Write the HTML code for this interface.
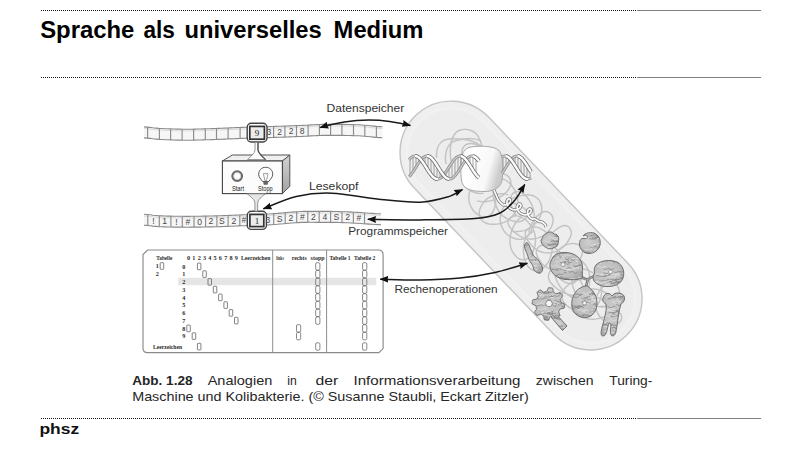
<!DOCTYPE html>
<html><head><meta charset="utf-8"><title>Sprache als universelles Medium</title>
<style>
html,body{margin:0;padding:0;background:#fff;width:800px;height:450px;overflow:hidden}
svg{display:block;position:absolute;left:0;top:0}
text{font-family:"Liberation Sans",sans-serif}
.ti{font-weight:bold;font-size:23px;fill:#000}
.cp{font-size:12.2px;fill:#262626}
.cb{font-size:12.2px;font-weight:bold;fill:#262626}
.ft{font-size:15.5px;font-weight:bold;fill:#111}
.lb{fill:#333}
.tp{font-family:"Liberation Sans",sans-serif;font-size:8.6px;fill:#484848;text-anchor:middle}
.hd{font-family:"Liberation Serif",serif;font-size:9px;fill:#222;text-anchor:middle}
.sm{font-size:6.3px;fill:#1a1a1a}
.tb{font-family:"Liberation Serif",serif;font-size:6.2px;font-weight:bold;fill:#2a2a2a}
</style></head><body>
<svg width="800" height="450" viewBox="0 0 800 450">
<line x1="41" y1="10.5" x2="637" y2="10.5" stroke="#1a1a1a" stroke-width="1" stroke-dasharray="1 1" shape-rendering="crispEdges"/><line x1="637" y1="10.5" x2="761" y2="10.5" stroke="#7f7f7f" stroke-width="1" shape-rendering="crispEdges"/><line x1="41" y1="77.5" x2="637" y2="77.5" stroke="#1a1a1a" stroke-width="1" stroke-dasharray="1 1" shape-rendering="crispEdges"/><line x1="637" y1="77.5" x2="761" y2="77.5" stroke="#7f7f7f" stroke-width="1" shape-rendering="crispEdges"/><line x1="41" y1="418.5" x2="637" y2="418.5" stroke="#1a1a1a" stroke-width="1" stroke-dasharray="1 1" shape-rendering="crispEdges"/><line x1="637" y1="418.5" x2="761" y2="418.5" stroke="#7f7f7f" stroke-width="1" shape-rendering="crispEdges"/><text x="40.2" y="37.6" class="ti" textLength="94.2" lengthAdjust="spacingAndGlyphs">Sprache</text><text x="143.4" y="37.6" class="ti" textLength="31.4" lengthAdjust="spacingAndGlyphs">als</text><text x="184.4" y="37.6" class="ti" textLength="137.4" lengthAdjust="spacingAndGlyphs">universelles</text><text x="333.6" y="37.6" class="ti" textLength="89.8" lengthAdjust="spacingAndGlyphs">Medium</text><text x="132.2" y="384.8" class="cb" textLength="60.3" lengthAdjust="spacingAndGlyphs">Abb. 1.28</text><text x="207.7" y="384.8" class="cp" textLength="64.6" lengthAdjust="spacingAndGlyphs">Analogien</text><text x="287.3" y="384.8" class="cp" textLength="9.5" lengthAdjust="spacingAndGlyphs">in</text><text x="315.4" y="384.8" class="cp" textLength="22.8" lengthAdjust="spacingAndGlyphs">der</text><text x="353.5" y="384.8" class="cp" textLength="167" lengthAdjust="spacingAndGlyphs">Informationsverarbeitung</text><text x="535.8" y="384.8" class="cp" textLength="57.7" lengthAdjust="spacingAndGlyphs">zwischen</text><text x="609.3" y="384.8" class="cp" textLength="43" lengthAdjust="spacingAndGlyphs">Turing-</text><text x="132.2" y="400.7" class="cp" textLength="396.6" lengthAdjust="spacingAndGlyphs">Maschine und Kolibakterie. (© Susanne Staubli, Eckart Zitzler)</text><text x="39.4" y="433.5" class="ft" textLength="39.8" lengthAdjust="spacingAndGlyphs">phsz</text>
<polygon points="144,126.9 147,127.1 150,127.4 152.9,127.8 155.9,128.1 158.9,128.4 161.9,128.5 164.9,128.7 167.8,128.8 170.8,128.9 173.8,129 176.8,129.1 179.8,129.1 182.7,129.2 185.7,129.2 188.7,129.2 191.7,129.2 194.7,129.1 197.6,129 200.6,129 203.6,128.9 206.6,128.8 209.6,128.7 212.5,128.6 215.5,128.5 218.5,128.4 221.5,128.3 224.5,128.1 227.4,128 230.4,127.9 233.4,127.8 236.4,127.6 239.4,127.5 242.3,127.4 245.3,127.3 248.3,127.2 251.3,127.1 254.3,127 257.2,126.9 260.2,126.9 263.2,126.8 266.2,126.7 269.2,126.6 272.1,126.5 275.1,126.4 278.1,126.3 281.1,126.2 284.1,126.1 287,126 290,125.9 293,125.8 296,125.6 299,125.5 301.9,125.4 304.9,125.2 307.9,125.1 310.9,124.9 313.9,124.7 316.8,124.6 319.8,124.5 322.8,124.4 325.8,124.4 328.8,124.4 331.7,124.4 334.7,124.4 337.7,124.4 340.7,124.4 343.7,124.4 346.6,124.5 349.6,124.5 352.6,124.6 355.6,124.7 358.6,124.8 361.5,125 364.5,125.2 367.5,125.5 370.5,125.8 373.5,126.1 376.4,126.4 379.4,126.6 382.4,126.8 382.4,137.8 379.4,137.6 376.4,137.4 373.5,137.1 370.5,136.8 367.5,136.5 364.5,136.2 361.5,136 358.6,135.8 355.6,135.7 352.6,135.6 349.6,135.5 346.6,135.5 343.7,135.4 340.7,135.4 337.7,135.4 334.7,135.4 331.7,135.4 328.8,135.4 325.8,135.4 322.8,135.4 319.8,135.5 316.8,135.6 313.9,135.7 310.9,135.9 307.9,136.1 304.9,136.2 301.9,136.4 299,136.5 296,136.6 293,136.8 290,136.9 287,137 284.1,137.1 281.1,137.2 278.1,137.3 275.1,137.4 272.1,137.5 269.2,137.6 266.2,137.7 263.2,137.8 260.2,137.9 257.2,137.9 254.3,138 251.3,138.1 248.3,138.2 245.3,138.3 242.3,138.4 239.4,138.5 236.4,138.6 233.4,138.8 230.4,138.9 227.4,139 224.5,139.1 221.5,139.3 218.5,139.4 215.5,139.5 212.5,139.6 209.6,139.7 206.6,139.8 203.6,139.9 200.6,140 197.6,140 194.7,140.1 191.7,140.2 188.7,140.2 185.7,140.2 182.7,140.2 179.8,140.1 176.8,140.1 173.8,140 170.8,139.9 167.8,139.8 164.9,139.7 161.9,139.5 158.9,139.4 155.9,139.1 152.9,138.8 150,138.4 147,138.1 144,137.9" fill="#f6f6f6" stroke="none"/><polyline points="144,126.9 147,127.1 150,127.4 152.9,127.8 155.9,128.1 158.9,128.4 161.9,128.5 164.9,128.7 167.8,128.8 170.8,128.9 173.8,129 176.8,129.1 179.8,129.1 182.7,129.2 185.7,129.2 188.7,129.2 191.7,129.2 194.7,129.1 197.6,129 200.6,129 203.6,128.9 206.6,128.8 209.6,128.7 212.5,128.6 215.5,128.5 218.5,128.4 221.5,128.3 224.5,128.1 227.4,128 230.4,127.9 233.4,127.8 236.4,127.6 239.4,127.5 242.3,127.4 245.3,127.3 248.3,127.2 251.3,127.1 254.3,127 257.2,126.9 260.2,126.9 263.2,126.8 266.2,126.7 269.2,126.6 272.1,126.5 275.1,126.4 278.1,126.3 281.1,126.2 284.1,126.1 287,126 290,125.9 293,125.8 296,125.6 299,125.5 301.9,125.4 304.9,125.2 307.9,125.1 310.9,124.9 313.9,124.7 316.8,124.6 319.8,124.5 322.8,124.4 325.8,124.4 328.8,124.4 331.7,124.4 334.7,124.4 337.7,124.4 340.7,124.4 343.7,124.4 346.6,124.5 349.6,124.5 352.6,124.6 355.6,124.7 358.6,124.8 361.5,125 364.5,125.2 367.5,125.5 370.5,125.8 373.5,126.1 376.4,126.4 379.4,126.6 382.4,126.8" fill="none" stroke="#8a8a8a" stroke-width="1.15"/><polyline points="382.4,137.8 379.4,137.6 376.4,137.4 373.5,137.1 370.5,136.8 367.5,136.5 364.5,136.2 361.5,136 358.6,135.8 355.6,135.7 352.6,135.6 349.6,135.5 346.6,135.5 343.7,135.4 340.7,135.4 337.7,135.4 334.7,135.4 331.7,135.4 328.8,135.4 325.8,135.4 322.8,135.4 319.8,135.5 316.8,135.6 313.9,135.7 310.9,135.9 307.9,136.1 304.9,136.2 301.9,136.4 299,136.5 296,136.6 293,136.8 290,136.9 287,137 284.1,137.1 281.1,137.2 278.1,137.3 275.1,137.4 272.1,137.5 269.2,137.6 266.2,137.7 263.2,137.8 260.2,137.9 257.2,137.9 254.3,138 251.3,138.1 248.3,138.2 245.3,138.3 242.3,138.4 239.4,138.5 236.4,138.6 233.4,138.8 230.4,138.9 227.4,139 224.5,139.1 221.5,139.3 218.5,139.4 215.5,139.5 212.5,139.6 209.6,139.7 206.6,139.8 203.6,139.9 200.6,140 197.6,140 194.7,140.1 191.7,140.2 188.7,140.2 185.7,140.2 182.7,140.2 179.8,140.1 176.8,140.1 173.8,140 170.8,139.9 167.8,139.8 164.9,139.7 161.9,139.5 158.9,139.4 155.9,139.1 152.9,138.8 150,138.4 147,138.1 144,137.9" fill="none" stroke="#8a8a8a" stroke-width="1.15"/><polyline points="144,128.6 147,128.8 150,129.1 152.9,129.5 155.9,129.8 158.9,130.1 161.9,130.2 164.9,130.4 167.8,130.5 170.8,130.6 173.8,130.7 176.8,130.8 179.8,130.8 182.7,130.9 185.7,130.9 188.7,130.9 191.7,130.9 194.7,130.8 197.6,130.7 200.6,130.7 203.6,130.6 206.6,130.5 209.6,130.4 212.5,130.3 215.5,130.2 218.5,130.1 221.5,130 224.5,129.8 227.4,129.7 230.4,129.6 233.4,129.5 236.4,129.3 239.4,129.2 242.3,129.1 245.3,129 248.3,128.9 251.3,128.8 254.3,128.7 257.2,128.6 260.2,128.6 263.2,128.5 266.2,128.4 269.2,128.3 272.1,128.2 275.1,128.1 278.1,128 281.1,127.9 284.1,127.8 287,127.7 290,127.6 293,127.5 296,127.3 299,127.2 301.9,127.1 304.9,126.9 307.9,126.8 310.9,126.6 313.9,126.4 316.8,126.3 319.8,126.2 322.8,126.1 325.8,126.1 328.8,126.1 331.7,126.1 334.7,126.1 337.7,126.1 340.7,126.1 343.7,126.1 346.6,126.2 349.6,126.2 352.6,126.3 355.6,126.4 358.6,126.5 361.5,126.7 364.5,126.9 367.5,127.2 370.5,127.5 373.5,127.8 376.4,128.1 379.4,128.3 382.4,128.5" fill="none" stroke="#d4d4d4" stroke-width="0.8"/><line x1="147.6" y1="127.2" x2="147.6" y2="138.2" stroke="#8c8c8c" stroke-width="1.15"/><line x1="159.4" y1="128.4" x2="159.4" y2="139.4" stroke="#8c8c8c" stroke-width="1.15"/><line x1="170.6" y1="128.9" x2="170.6" y2="139.9" stroke="#8c8c8c" stroke-width="1.15"/><line x1="182.1" y1="129.2" x2="182.1" y2="140.2" stroke="#8c8c8c" stroke-width="1.15"/><line x1="193.6" y1="129.1" x2="193.6" y2="140.1" stroke="#8c8c8c" stroke-width="1.15"/><line x1="205.3" y1="128.8" x2="205.3" y2="139.8" stroke="#8c8c8c" stroke-width="1.15"/><line x1="216.5" y1="128.5" x2="216.5" y2="139.5" stroke="#8c8c8c" stroke-width="1.15"/><line x1="228.1" y1="128" x2="228.1" y2="139" stroke="#8c8c8c" stroke-width="1.15"/><line x1="240.1" y1="127.5" x2="240.1" y2="138.5" stroke="#8c8c8c" stroke-width="1.15"/><line x1="273.6" y1="126.5" x2="273.6" y2="137.5" stroke="#8c8c8c" stroke-width="1.15"/><line x1="284.9" y1="126.1" x2="284.9" y2="137.1" stroke="#8c8c8c" stroke-width="1.15"/><line x1="296.5" y1="125.6" x2="296.5" y2="136.6" stroke="#8c8c8c" stroke-width="1.15"/><line x1="308.1" y1="125" x2="308.1" y2="136" stroke="#8c8c8c" stroke-width="1.15"/><line x1="319.4" y1="124.5" x2="319.4" y2="135.5" stroke="#8c8c8c" stroke-width="1.15"/><line x1="330.6" y1="124.4" x2="330.6" y2="135.4" stroke="#8c8c8c" stroke-width="1.15"/><line x1="341.9" y1="124.4" x2="341.9" y2="135.4" stroke="#8c8c8c" stroke-width="1.15"/><line x1="353.5" y1="124.6" x2="353.5" y2="135.6" stroke="#8c8c8c" stroke-width="1.15"/><line x1="364.8" y1="125.2" x2="364.8" y2="136.2" stroke="#8c8c8c" stroke-width="1.15"/><line x1="376.4" y1="126.4" x2="376.4" y2="137.4" stroke="#8c8c8c" stroke-width="1.15"/><text x="268.8" y="135.1" class="tp">3</text><text x="279.6" y="134.8" class="tp">2</text><text x="291.2" y="134.3" class="tp">2</text><text x="302.2" y="133.9" class="tp">8</text><polygon points="144,214.3 147,214.5 149.9,214.8 152.9,215.2 155.8,215.5 158.8,215.8 161.8,215.9 164.7,216 167.7,216.1 170.7,216.1 173.6,216.2 176.6,216.2 179.6,216.2 182.5,216.2 185.5,216.3 188.4,216.3 191.4,216.2 194.4,216.2 197.3,216.2 200.3,216.2 203.2,216.1 206.2,216.1 209.2,216 212.1,216 215.1,215.9 218.1,215.8 221,215.7 224,215.6 226.9,215.5 229.9,215.4 232.9,215.3 235.8,215.1 238.8,215 241.8,214.9 244.7,214.8 247.7,214.7 250.7,214.6 253.6,214.5 256.6,214.5 259.5,214.4 262.5,214.3 265.5,214.1 268.4,214 271.4,213.8 274.4,213.6 277.3,213.4 280.3,213.1 283.2,212.9 286.2,212.6 289.2,212.3 292.1,212.1 295.1,211.9 298.1,211.7 301,211.5 304,211.4 306.9,211.4 309.9,211.3 312.9,211.3 315.8,211.4 318.8,211.4 321.8,211.4 324.7,211.4 327.7,211.4 330.6,211.4 333.6,211.5 336.6,211.5 339.5,211.6 342.5,211.7 345.4,211.8 348.4,211.9 351.4,212.1 354.3,212.3 357.3,212.4 360.3,212.6 363.2,212.8 366.2,213 369.1,213.2 372.1,213.4 375.1,213.6 378,213.7 381,213.8 381,224.7 378,224.6 375.1,224.5 372.1,224.3 369.1,224.1 366.2,223.9 363.2,223.7 360.3,223.5 357.3,223.3 354.3,223.2 351.4,223 348.4,222.8 345.4,222.7 342.5,222.6 339.5,222.5 336.6,222.4 333.6,222.4 330.6,222.3 327.7,222.3 324.7,222.3 321.8,222.3 318.8,222.3 315.8,222.3 312.9,222.2 309.9,222.2 306.9,222.3 304,222.3 301,222.4 298.1,222.6 295.1,222.8 292.1,223 289.2,223.2 286.2,223.5 283.2,223.8 280.3,224 277.3,224.3 274.4,224.5 271.4,224.7 268.4,224.9 265.5,225 262.5,225.2 259.5,225.3 256.6,225.4 253.6,225.4 250.7,225.5 247.7,225.6 244.7,225.7 241.8,225.8 238.8,225.9 235.8,226 232.9,226.2 229.9,226.3 226.9,226.4 224,226.5 221,226.6 218.1,226.7 215.1,226.8 212.1,226.9 209.2,226.9 206.2,227 203.2,227 200.3,227.1 197.3,227.1 194.4,227.1 191.4,227.1 188.4,227.2 185.5,227.2 182.5,227.1 179.6,227.1 176.6,227.1 173.6,227.1 170.7,227 167.7,227 164.7,226.9 161.8,226.8 158.8,226.7 155.8,226.4 152.9,226.1 149.9,225.7 147,225.4 144,225.2" fill="#f6f6f6" stroke="none"/><polyline points="144,214.3 147,214.5 149.9,214.8 152.9,215.2 155.8,215.5 158.8,215.8 161.8,215.9 164.7,216 167.7,216.1 170.7,216.1 173.6,216.2 176.6,216.2 179.6,216.2 182.5,216.2 185.5,216.3 188.4,216.3 191.4,216.2 194.4,216.2 197.3,216.2 200.3,216.2 203.2,216.1 206.2,216.1 209.2,216 212.1,216 215.1,215.9 218.1,215.8 221,215.7 224,215.6 226.9,215.5 229.9,215.4 232.9,215.3 235.8,215.1 238.8,215 241.8,214.9 244.7,214.8 247.7,214.7 250.7,214.6 253.6,214.5 256.6,214.5 259.5,214.4 262.5,214.3 265.5,214.1 268.4,214 271.4,213.8 274.4,213.6 277.3,213.4 280.3,213.1 283.2,212.9 286.2,212.6 289.2,212.3 292.1,212.1 295.1,211.9 298.1,211.7 301,211.5 304,211.4 306.9,211.4 309.9,211.3 312.9,211.3 315.8,211.4 318.8,211.4 321.8,211.4 324.7,211.4 327.7,211.4 330.6,211.4 333.6,211.5 336.6,211.5 339.5,211.6 342.5,211.7 345.4,211.8 348.4,211.9 351.4,212.1 354.3,212.3 357.3,212.4 360.3,212.6 363.2,212.8 366.2,213 369.1,213.2 372.1,213.4 375.1,213.6 378,213.7 381,213.8" fill="none" stroke="#8a8a8a" stroke-width="1.15"/><polyline points="381,224.7 378,224.6 375.1,224.5 372.1,224.3 369.1,224.1 366.2,223.9 363.2,223.7 360.3,223.5 357.3,223.3 354.3,223.2 351.4,223 348.4,222.8 345.4,222.7 342.5,222.6 339.5,222.5 336.6,222.4 333.6,222.4 330.6,222.3 327.7,222.3 324.7,222.3 321.8,222.3 318.8,222.3 315.8,222.3 312.9,222.2 309.9,222.2 306.9,222.3 304,222.3 301,222.4 298.1,222.6 295.1,222.8 292.1,223 289.2,223.2 286.2,223.5 283.2,223.8 280.3,224 277.3,224.3 274.4,224.5 271.4,224.7 268.4,224.9 265.5,225 262.5,225.2 259.5,225.3 256.6,225.4 253.6,225.4 250.7,225.5 247.7,225.6 244.7,225.7 241.8,225.8 238.8,225.9 235.8,226 232.9,226.2 229.9,226.3 226.9,226.4 224,226.5 221,226.6 218.1,226.7 215.1,226.8 212.1,226.9 209.2,226.9 206.2,227 203.2,227 200.3,227.1 197.3,227.1 194.4,227.1 191.4,227.1 188.4,227.2 185.5,227.2 182.5,227.1 179.6,227.1 176.6,227.1 173.6,227.1 170.7,227 167.7,227 164.7,226.9 161.8,226.8 158.8,226.7 155.8,226.4 152.9,226.1 149.9,225.7 147,225.4 144,225.2" fill="none" stroke="#8a8a8a" stroke-width="1.15"/><polyline points="144,216 147,216.2 149.9,216.5 152.9,216.9 155.8,217.2 158.8,217.5 161.8,217.6 164.7,217.7 167.7,217.8 170.7,217.8 173.6,217.9 176.6,217.9 179.6,217.9 182.5,217.9 185.5,218 188.4,218 191.4,217.9 194.4,217.9 197.3,217.9 200.3,217.9 203.2,217.8 206.2,217.8 209.2,217.7 212.1,217.7 215.1,217.6 218.1,217.5 221,217.4 224,217.3 226.9,217.2 229.9,217.1 232.9,217 235.8,216.8 238.8,216.7 241.8,216.6 244.7,216.5 247.7,216.4 250.7,216.3 253.6,216.2 256.6,216.2 259.5,216.1 262.5,216 265.5,215.8 268.4,215.7 271.4,215.5 274.4,215.3 277.3,215.1 280.3,214.8 283.2,214.6 286.2,214.3 289.2,214 292.1,213.8 295.1,213.6 298.1,213.4 301,213.2 304,213.1 306.9,213.1 309.9,213 312.9,213 315.8,213.1 318.8,213.1 321.8,213.1 324.7,213.1 327.7,213.1 330.6,213.1 333.6,213.2 336.6,213.2 339.5,213.3 342.5,213.4 345.4,213.5 348.4,213.6 351.4,213.8 354.3,214 357.3,214.1 360.3,214.3 363.2,214.5 366.2,214.7 369.1,214.9 372.1,215.1 375.1,215.3 378,215.4 381,215.5" fill="none" stroke="#d4d4d4" stroke-width="0.8"/><line x1="147.8" y1="214.6" x2="147.8" y2="225.5" stroke="#8c8c8c" stroke-width="1.15"/><line x1="159.3" y1="215.8" x2="159.3" y2="226.7" stroke="#8c8c8c" stroke-width="1.15"/><line x1="170.9" y1="216.1" x2="170.9" y2="227" stroke="#8c8c8c" stroke-width="1.15"/><line x1="182.3" y1="216.2" x2="182.3" y2="227.1" stroke="#8c8c8c" stroke-width="1.15"/><line x1="194" y1="216.2" x2="194" y2="227.1" stroke="#8c8c8c" stroke-width="1.15"/><line x1="205.6" y1="216.1" x2="205.6" y2="227" stroke="#8c8c8c" stroke-width="1.15"/><line x1="216.9" y1="215.9" x2="216.9" y2="226.8" stroke="#8c8c8c" stroke-width="1.15"/><line x1="228.1" y1="215.5" x2="228.1" y2="226.4" stroke="#8c8c8c" stroke-width="1.15"/><line x1="239.8" y1="215" x2="239.8" y2="225.9" stroke="#8c8c8c" stroke-width="1.15"/><line x1="273.7" y1="213.7" x2="273.7" y2="224.6" stroke="#8c8c8c" stroke-width="1.15"/><line x1="285.2" y1="212.7" x2="285.2" y2="223.6" stroke="#8c8c8c" stroke-width="1.15"/><line x1="296.7" y1="211.8" x2="296.7" y2="222.7" stroke="#8c8c8c" stroke-width="1.15"/><line x1="307.8" y1="211.3" x2="307.8" y2="222.2" stroke="#8c8c8c" stroke-width="1.15"/><line x1="319.2" y1="211.4" x2="319.2" y2="222.3" stroke="#8c8c8c" stroke-width="1.15"/><line x1="330.6" y1="211.4" x2="330.6" y2="222.3" stroke="#8c8c8c" stroke-width="1.15"/><line x1="342" y1="211.7" x2="342" y2="222.6" stroke="#8c8c8c" stroke-width="1.15"/><line x1="353.4" y1="212.2" x2="353.4" y2="223.1" stroke="#8c8c8c" stroke-width="1.15"/><line x1="364.5" y1="212.9" x2="364.5" y2="223.8" stroke="#8c8c8c" stroke-width="1.15"/><text x="153.5" y="223.7" class="tp">!</text><text x="164.6" y="224.4" class="tp">1</text><text x="176.5" y="224.6" class="tp">!</text><text x="188" y="224.7" class="tp">#</text><text x="199.6" y="224.6" class="tp">0</text><text x="210.9" y="224.4" class="tp">2</text><text x="221.8" y="224.1" class="tp">S</text><text x="233.8" y="223.7" class="tp">2</text><text x="244" y="223.3" class="tp">#</text><text x="268" y="222.5" class="tp">3</text><text x="279.5" y="221.7" class="tp">S</text><text x="291" y="220.6" class="tp">2</text><text x="302.3" y="219.9" class="tp">#</text><text x="313.5" y="219.8" class="tp">2</text><text x="324.9" y="219.9" class="tp">4</text><text x="336.3" y="220" class="tp">S</text><text x="347.7" y="220.4" class="tp">2</text><text x="358.8" y="221" class="tp">#</text><rect x="247.2" y="123.2" width="19.8" height="18.8" rx="4" fill="#fbfbfb" stroke="#444" stroke-width="1.4"/><rect x="249.8" y="126.4" width="14.6" height="12.8" fill="#ececec" stroke="#333" stroke-width="1.7"/><text x="257.1" y="136.1" class="hd">9</text><rect x="247.3" y="211.2" width="19.1" height="18.2" rx="4" fill="#fbfbfb" stroke="#444" stroke-width="1.4"/><rect x="249.9" y="214.4" width="13.9" height="12.2" fill="#ececec" stroke="#333" stroke-width="1.7"/><text x="256.9" y="223.8" class="hd">1</text><defs><linearGradient id="side" x1="0" y1="0" x2="0" y2="1"><stop offset="0" stop-color="#d2d2d2"/><stop offset="1" stop-color="#a2a2a2"/></linearGradient></defs><polygon points="222.4,161 232.4,155 289.8,155 282.4,161" fill="#efefef" stroke="#555" stroke-width="1"/><polygon points="282.4,161 289.8,155 289.8,186.4 282.4,193.6" fill="url(#side)" stroke="#555" stroke-width="1"/><rect x="222.4" y="161" width="60" height="32.6" fill="#fcfcfc" stroke="#444" stroke-width="1.1"/><circle cx="237.2" cy="176.1" r="4.8" fill="#fff" stroke="#6a6a6a" stroke-width="2.2"/><circle cx="237.2" cy="176.1" r="3.5" fill="#fff" stroke="#aaa" stroke-width="0.5"/><path d="M265.7,167.3 C261.5,167.3 258.7,170.3 258.7,174.3 C258.7,177.5 261,179 262.6,181.5 L268.8,181.5 C270.4,179 272.7,177.5 272.7,174.3 C272.7,170.3 269.9,167.3 265.7,167.3 Z" fill="#fff" stroke="#555" stroke-width="1"/><path d="M263,181.3 L268.4,181.3 L267.6,184.8 L263.8,184.8 Z" fill="#666"/><path d="M263.4,173.6 L268,173.6 L266.5,180.8 L264.9,180.8 Z" fill="none" stroke="#777" stroke-width="0.7"/><text x="231.9" y="190.5" class="sm" textLength="12.2" lengthAdjust="spacingAndGlyphs">Start</text><text x="258" y="190.5" class="sm" textLength="14.6" lengthAdjust="spacingAndGlyphs">Stopp</text><path d="M255,142.3 L255,149.5 C255,153.5 250.5,156.5 247.5,159.6 L265.6,159.6 C262.5,156.5 258,153.5 258,149.5 L258,142.3 Z" fill="#fdfdfd" stroke="#777" stroke-width="0.8"/><path d="M258,142.3 L258,149.5 C258,153.5 262.5,156.5 265.6,159.6" fill="none" stroke="#4a4a4a" stroke-width="1.2"/><path d="M247.2,193.8 C251,197 254.9,199.5 254.9,203.5 L254.9,211.2 L257.7,211.2 L257.7,203.5 C257.7,199.5 261.5,197 265.4,193.8 Z" fill="#e6e6e6" stroke="#7a7a7a" stroke-width="0.8"/><g transform="translate(521,225.6) rotate(46.36)"><rect x="-152.3" y="-51.4" width="304.6" height="102.7" rx="51.4" fill="#efefef" stroke="#c4c4c4" stroke-width="1.4"/><rect x="-145.3" y="-44.4" width="290.6" height="88.7" rx="44.4" fill="#ededed" stroke="#f1f1f1" stroke-width="2.5"/></g><defs><clipPath id="cap"><rect x="-149.3" y="-48.4" width="298.6" height="96.7" rx="48.4" transform="translate(521,225.6) rotate(46.36)"/></clipPath><linearGradient id="blob" x1="0" y1="0" x2="1" y2="0.3"><stop offset="0" stop-color="#f6f6f6"/><stop offset="0.3" stop-color="#ffffff"/><stop offset="0.75" stop-color="#f8f8f8"/><stop offset="1" stop-color="#cbcbcb"/></linearGradient><radialGradient id="prot" cx="0.45" cy="0.45" r="0.6"><stop offset="0" stop-color="#cecece"/><stop offset="0.7" stop-color="#bebebe"/><stop offset="1" stop-color="#a8a8a8"/></radialGradient><marker id="ah" viewBox="0 0 10 10" refX="9.4" refY="5" markerWidth="8.8" markerHeight="8.8" markerUnits="userSpaceOnUse" orient="auto-start-reverse"><path d="M0,1.0 L10,5 L0,9.0 L1.0,5 Z" fill="#111"/></marker></defs><g clip-path="url(#cap)" fill="none" stroke="#c3c3c3" stroke-width="1.45"><path d="M436.5,158 C436,146 441,139.5 449,139 C458,138.5 466,139 473,141.5 C478,143.5 481,145.5 483,148"/><path d="M451,161 C449,148 451,134 459,130.5 C467,127.5 476,131 479,138 C481,142 482,146 483,150"/><path d="M446,164 C444,152 448,143 455,141 C464,138.5 474,137 481,141"/><path d="M463,163 C460,152 462,144 470,143.5 C476,143 480,146 480.5,152"/><path d="M483.7,193.3 C483.1,193.3 481.1,193.5 479.8,193.5 C478.4,193.4 477.1,193.2 475.8,192.8 C474.5,192.5 473.3,192 472.1,191.4 C470.9,190.9 469.7,190.1 468.6,189.4 C467.5,188.6 466.4,187.8 465.5,186.9 C464.6,185.9 463.7,184.8 463.4,183.5 C463.1,182.3 463.3,180.8 463.8,179.6 C464.3,178.5 465.4,177.4 466.4,176.6 C467.5,175.9 468.8,175.4 470.1,175.2 C471.4,174.9 472.8,174.9 474.1,175 C475.4,175.2 476.7,175.5 478,175.9 C479.2,176.3 480.5,176.8 481.7,177.5 C482.8,178.1 483.9,178.9 485,179.7 C486,180.5 487,181.5 487.8,182.5 C488.7,183.5 489.5,184.5 490.3,185.6 C491.1,186.7 491.8,187.8 492.4,189 C493.1,190.2 493.6,191.4 494.1,192.7 C494.5,193.9 494.9,195.2 495.2,196.5 C495.4,197.8 495.6,199.1 495.6,200.5 C495.7,201.8 495.6,203.1 495.4,204.5 C495.2,205.8 494.9,207.1 494.5,208.3 C494,209.6 493.5,210.9 492.8,212 C492.1,213.1 491.3,214.3 490.3,215.1 C489.3,215.9 488,216.6 486.8,216.8 C485.5,217.1 484.1,217.1 482.8,216.8 C481.5,216.6 480.2,216 479.1,215.4 C477.9,214.8 476.8,214 475.8,213.1 C474.8,212.2 473.9,211.2 473.1,210.2 C472.3,209.1 471.5,208 471,206.8 C470.4,205.6 469.9,204.4 469.5,203.1 C469.1,201.8 468.9,200.5 468.8,199.1 C468.7,197.8 468.8,196.5 468.9,195.2 C469.1,193.8 469.4,192.5 469.8,191.3 C470.2,190 470.8,188.7 471.4,187.6 C472,186.4 472.8,185.3 473.6,184.3 C474.4,183.2 475.4,182.3 476.4,181.4 C477.4,180.5 478.5,179.7 479.6,179 C480.7,178.2 481.8,177.5 483,176.9 C484.2,176.3 485.4,175.7 486.6,175.2 C487.9,174.7 489.1,174.3 490.4,174 C491.7,173.7 493.1,173.6 494.4,173.5 C495.7,173.4 497.1,173.3 498.4,173.4 C499.7,173.4 501.1,173.4 502.4,173.7 C503.7,173.9 505,174.3 506.2,174.9 C507.3,175.6 508.4,176.5 509.2,177.5 C509.9,178.6 510.5,179.9 510.7,181.2 C510.9,182.5 510.8,183.9 510.5,185.2 C510.2,186.4 509.6,187.7 509,188.8 C508.3,190 507.4,191 506.5,192 C505.6,193 504.6,193.8 503.5,194.6 C502.5,195.4 501.3,196.2 500.2,196.8 C499,197.5 497.8,198.1 496.6,198.6 C495.4,199.2 494.2,199.7 492.9,200.1 C491.6,200.5 490.3,200.9 489,201.1 C487.7,201.4 486.4,201.6 485.1,201.7 C483.8,201.7 482.4,201.7 481.1,201.6 C479.8,201.5 477.8,201.1 477.1,201"/><path d="M505.5,203.1 C506.2,203.1 508.2,202.8 509.5,202.8 C510.8,202.9 512.2,203 513.5,203.3 C514.8,203.6 516,204 517.3,204.5 C518.5,205 519.7,205.6 520.9,206.3 C522,206.9 523.3,207.6 524.2,208.4 C525.2,209.3 526.3,210.3 526.8,211.4 C527.3,212.6 527.4,214.1 527.2,215.4 C526.9,216.6 526.1,217.9 525.2,218.8 C524.4,219.8 523.1,220.5 521.9,221 C520.7,221.5 519.3,221.7 518,221.7 C516.7,221.7 515.3,221.5 514,221.2 C512.7,220.9 511.4,220.5 510.2,220.1 C508.9,219.6 507.7,219.1 506.5,218.4 C505.4,217.8 504.3,217 503.2,216.2 C502.2,215.3 501.3,214.4 500.4,213.4 C499.6,212.3 498.8,211.2 498.1,210.1 C497.4,209 496.8,207.8 496.3,206.5 C495.8,205.3 495.3,204.1 494.9,202.8 C494.5,201.5 494.2,200.2 493.9,198.9 C493.6,197.6 493.5,196.3 493.3,195 C493.2,193.6 493.2,192.3 493.2,191 C493.2,189.6 493.2,188.3 493.4,187 C493.6,185.7 493.7,184.2 494.3,183.1 C494.8,181.9 495.7,180.7 496.8,180 C497.8,179.3 499.3,179 500.6,178.9 C501.9,178.8 503.3,179.2 504.5,179.7 C505.7,180.2 506.9,180.9 507.9,181.7 C509,182.5 509.9,183.5 510.8,184.5 C511.7,185.5 512.4,186.6 513.2,187.7 C513.9,188.8 514.6,190 515.2,191.2 C515.8,192.4 516.3,193.6 516.7,194.8 C517.1,196.1 517.4,197.4 517.6,198.7 C517.8,200.1 517.9,201.4 517.8,202.7 C517.7,204.1 517.5,205.4 517.2,206.7 C516.9,208 516.4,209.2 515.9,210.5 C515.4,211.7 514.8,212.9 514.1,214 C513.4,215.1 512.5,216.2 511.6,217.2 C510.7,218.2 509.7,219 508.6,219.8 C507.6,220.6 506.4,221.3 505.2,221.9 C504,222.5 502.7,222.9 501.5,223.3 C500.2,223.6 498.9,223.9 497.5,224.1 C496.2,224.2 494.9,224.3 493.6,224.3 C492.2,224.3 490.9,224.3 489.6,224.1 C488.3,223.9 486.9,223.6 485.7,223 C484.5,222.5 483.4,221.7 482.4,220.8 C481.5,219.8 480.7,218.7 480.1,217.5 C479.6,216.3 479.3,214.9 479.2,213.6 C479.2,212.3 479.4,210.9 479.7,209.7 C480.1,208.4 480.7,207.2 481.3,206 C481.9,204.8 482.6,203.6 483.4,202.6 C484.2,201.5 485.1,200.5 486.1,199.6 C487.1,198.8 488.2,198 489.3,197.3 C490.4,196.6 491.7,196 492.9,195.5 C494.1,195 495.4,194.6 496.7,194.3 C498,194 499.3,193.8 500.7,193.8 C502,193.7 503.3,193.8 504.7,193.9 C506,194.1 507.9,194.7 508.5,194.9"/><path d="M516.8,215.8 C516.4,215.3 515,213.8 514.3,212.7 C513.6,211.5 512.9,210.4 512.4,209.1 C511.9,207.9 511.5,206.6 511.3,205.3 C511,204 510.9,202.7 510.8,201.3 C510.8,200 510.7,198.6 511,197.3 C511.2,196.1 511.7,194.6 512.5,193.7 C513.4,192.8 514.7,192.1 516,191.8 C517.2,191.5 518.7,191.7 519.9,192 C521.2,192.4 522.4,193.1 523.5,193.8 C524.6,194.6 525.5,195.6 526.4,196.5 C527.3,197.5 528.1,198.6 528.9,199.7 C529.6,200.8 530.3,201.9 530.9,203.1 C531.5,204.3 532.1,205.5 532.5,206.8 C533,208 533.3,209.3 533.6,210.6 C533.9,211.9 534.1,213.3 534.3,214.6 C534.4,215.9 534.5,217.2 534.5,218.6 C534.5,219.9 534.4,221.2 534.1,222.6 C533.9,223.9 533.6,225.2 533.2,226.4 C532.8,227.7 532.3,228.9 531.7,230.1 C531.1,231.3 530.5,232.6 529.8,233.6 C529,234.7 528.2,235.8 527.2,236.7 C526.1,237.5 525,238.2 523.7,238.7 C522.5,239.1 521.1,239.3 519.8,239.4 C518.5,239.4 517.1,239.1 515.8,238.8 C514.6,238.5 513.3,238.1 512.1,237.5 C510.9,237 509.7,236.3 508.6,235.5 C507.5,234.8 506.5,233.9 505.6,232.9 C504.7,231.9 503.9,230.8 503.2,229.7 C502.5,228.6 501.9,227.3 501.5,226.1 C501,224.9 500.7,223.5 500.5,222.2 C500.3,220.9 500.2,219.6 500.3,218.2 C500.3,216.9 500.6,215.6 500.8,214.3 C501.1,213 501.5,211.7 502,210.5 C502.5,209.2 503.1,208 503.8,206.9 C504.5,205.7 505.3,204.7 506.2,203.7 C507,202.7 508,201.7 509.1,200.9 C510.1,200.1 511.2,199.3 512.4,198.7 C513.6,198.1 514.8,197.5 516,197.1 C517.3,196.6 518.6,196.3 519.9,195.9 C521.2,195.6 522.5,195.4 523.8,195.2 C525.1,195 526.5,194.8 527.8,194.8 C529.1,194.8 530.5,194.9 531.7,195.2 C533,195.6 534.3,196.1 535.4,196.8 C536.6,197.5 537.6,198.4 538.5,199.4 C539.3,200.4 540,201.6 540.5,202.8 C541.1,204 541.4,205.3 541.6,206.6 C541.8,207.9 541.8,209.3 541.7,210.6 C541.6,211.9 541.3,213.3 540.9,214.5 C540.5,215.8 540,217.1 539.4,218.2 C538.7,219.4 537.9,220.5 537.1,221.5 C536.3,222.6 535.3,223.5 534.4,224.4 C533.4,225.3 532.4,226.2 531.3,227 C530.2,227.8 529.1,228.5 527.9,229.1 C526.7,229.7 525.5,230.2 524.2,230.6 C522.9,230.9 521.6,231.1 520.3,231.3 C518.9,231.5 517.6,231.6 516.3,231.6 C514.9,231.6 512.9,231.5 512.3,231.4"/><path d="M528.9,232.7 C529.1,232 529.3,230 529.7,228.8 C530,227.5 530.6,226.2 531.1,225 C531.7,223.8 532.4,222.7 533.1,221.5 C533.8,220.4 534.5,219.3 535.4,218.3 C536.2,217.2 537.1,216.3 538.1,215.4 C539.1,214.5 540.1,213.5 541.3,212.9 C542.4,212.2 543.7,211.6 545,211.5 C546.2,211.4 547.7,211.7 548.8,212.3 C550,212.8 551,213.9 551.7,215 C552.4,216.1 552.8,217.5 553,218.8 C553.2,220.1 553.1,221.5 552.8,222.7 C552.6,224 552.1,225.3 551.5,226.5 C551,227.7 550.2,228.9 549.4,229.9 C548.7,231 547.7,232 546.8,232.9 C545.8,233.8 544.7,234.7 543.6,235.4 C542.5,236.1 541.3,236.7 540.1,237.2 C538.9,237.7 537.6,238.1 536.3,238.4 C535,238.7 533.6,238.9 532.3,239 C531,239.1 529.6,239.1 528.3,238.9 C527,238.8 525.7,238.5 524.4,238.1 C523.1,237.7 521.9,237.2 520.7,236.6 C519.5,235.9 518.4,235.2 517.3,234.4 C516.3,233.6 515.2,232.8 514.2,231.9 C513.3,231 512.3,230.1 511.4,229 C510.6,228 509.6,227 509,225.9 C508.5,224.7 507.9,223.3 508,222 C508.1,220.8 508.7,219.3 509.5,218.4 C510.3,217.4 511.6,216.6 512.8,216.2 C514,215.8 515.4,215.7 516.7,215.9 C518,216 519.3,216.5 520.6,216.9 C521.8,217.4 523,218 524.1,218.8 C525.3,219.5 526.3,220.3 527.3,221.2 C528.2,222.1 529.1,223.2 529.9,224.2 C530.7,225.3 531.4,226.4 532.1,227.6 C532.8,228.7 533.4,229.9 533.9,231.2 C534.4,232.4 534.8,233.7 535,235 C535.3,236.3 535.5,237.6 535.5,239 C535.6,240.3 535.5,241.6 535.4,242.9 C535.2,244.3 534.9,245.6 534.6,246.9 C534.2,248.1 533.8,249.4 533.2,250.6 C532.7,251.8 532,253 531.3,254.1 C530.6,255.3 529.9,256.5 528.9,257.3 C528,258.2 526.8,259.1 525.6,259.5 C524.4,259.9 522.9,259.9 521.6,259.7 C520.4,259.5 519.1,258.8 518,258.1 C516.9,257.4 515.9,256.4 515.1,255.4 C514.2,254.4 513.5,253.2 512.8,252.1 C512.1,250.9 511.6,249.7 511.1,248.4 C510.7,247.2 510.4,245.9 510.2,244.6 C510,243.2 510,241.9 510,240.6 C510,239.2 510.1,237.9 510.2,236.6 C510.4,235.3 510.7,233.9 511.1,232.7 C511.4,231.4 511.9,230.1 512.4,228.9 C512.9,227.7 513.5,226.4 514.1,225.3 C514.8,224.1 515.5,223 516.3,222 C517.1,220.9 518.1,219.9 519,219 C520,218.1 521.6,216.9 522.1,216.4"/><path d="M546,244.3 C546.2,243.7 546.7,241.8 547.2,240.5 C547.7,239.3 548.3,238.1 549,237 C549.7,235.9 550.5,234.8 551.4,233.8 C552.3,232.8 553.3,231.9 554.3,231 C555.3,230.1 556.4,229.3 557.5,228.6 C558.6,227.9 559.7,227.1 560.9,226.6 C562.1,226 563.5,225.5 564.8,225.5 C566,225.6 567.5,226.1 568.5,226.8 C569.5,227.6 570.3,228.9 570.8,230.1 C571.3,231.3 571.4,232.7 571.2,234 C571.1,235.3 570.6,236.6 570.1,237.8 C569.6,239 568.8,240.2 568,241.3 C567.3,242.4 566.5,243.4 565.6,244.4 C564.7,245.4 563.8,246.4 562.8,247.3 C561.8,248.2 560.7,248.9 559.6,249.6 C558.4,250.3 557.2,250.9 556,251.4 C554.8,251.9 553.5,252.3 552.2,252.5 C550.9,252.7 549.5,252.9 548.2,252.9 C546.8,252.9 545.5,252.8 544.2,252.6 C542.9,252.4 541.6,252 540.3,251.5 C539.1,251.1 537.9,250.5 536.8,249.8 C535.6,249.1 534.6,248.2 533.6,247.3 C532.6,246.4 531.7,245.5 530.8,244.5 C529.9,243.4 529.1,242.4 528.3,241.3 C527.6,240.2 526.7,239.1 526.2,237.9 C525.7,236.7 525.1,235.4 525.2,234.1 C525.2,232.8 525.7,231.4 526.4,230.3 C527.1,229.3 528.3,228.4 529.4,227.8 C530.6,227.2 532,226.9 533.3,226.8 C534.6,226.8 536,227 537.3,227.4 C538.5,227.7 539.8,228.2 541,228.8 C542.2,229.4 543.3,230.1 544.4,230.9 C545.4,231.7 546.4,232.6 547.3,233.6 C548.2,234.6 549,235.7 549.6,236.9 C550.3,238 550.8,239.3 551.2,240.5 C551.7,241.8 551.9,243.1 552.1,244.4 C552.3,245.8 552.3,247.1 552.3,248.4 C552.2,249.8 552.1,251.1 551.8,252.4 C551.6,253.7 551.2,255 550.8,256.3 C550.4,257.5 549.9,258.8 549.4,260 C548.8,261.2 548.1,262.4 547.4,263.5 C546.6,264.6 545.8,265.6 544.9,266.6 C544,267.5 543,268.5 541.8,269.2 C540.7,269.9 539.4,270.4 538.2,270.7 C536.9,270.9 535.4,270.8 534.2,270.5 C532.9,270.2 531.7,269.5 530.6,268.8 C529.5,268 528.5,267 527.7,266 C526.9,264.9 526.3,263.7 525.7,262.5 C525.2,261.3 524.8,260 524.5,258.7 C524.2,257.4 523.9,256.1 523.8,254.8 C523.6,253.5 523.5,252.1 523.4,250.8 C523.4,249.5 523.4,248.1 523.5,246.8 C523.6,245.5 523.7,244.1 524,242.9 C524.4,241.6 524.8,240.3 525.4,239.1 C526,237.9 526.8,236.8 527.6,235.8 C528.5,234.8 529.6,233.9 530.6,233.2 C531.7,232.4 533.5,231.5 534.1,231.2"/><path d="M558.9,263.2 C559.5,263.3 561.6,263.3 562.9,263.6 C564.1,263.9 565.4,264.3 566.7,264.8 C567.9,265.3 569.1,266 570.2,266.7 C571.3,267.4 572.4,268.3 573.4,269.1 C574.4,270 575.5,270.9 576.2,271.9 C577,273 577.8,274.2 578,275.5 C578.1,276.7 577.8,278.2 577.2,279.4 C576.7,280.5 575.6,281.6 574.6,282.3 C573.5,283 572.1,283.4 570.8,283.5 C569.5,283.6 568.1,283.4 566.9,283 C565.6,282.6 564.4,281.9 563.3,281.2 C562.2,280.5 561.1,279.6 560.2,278.7 C559.2,277.8 558.3,276.8 557.6,275.7 C556.8,274.6 556.1,273.4 555.6,272.2 C555,271 554.6,269.7 554.3,268.4 C554,267.1 553.8,265.8 553.7,264.5 C553.7,263.2 553.8,261.8 554,260.5 C554.2,259.2 554.5,257.9 555,256.6 C555.4,255.4 556,254.2 556.7,253 C557.4,251.9 558.2,250.8 559.1,249.8 C560,248.9 561,248 562.1,247.2 C563.2,246.4 564.4,245.7 565.6,245.2 C566.8,244.6 568.1,244.2 569.3,243.9 C570.6,243.6 572,243.3 573.3,243.4 C574.6,243.4 576,243.6 577.2,244.1 C578.4,244.6 579.6,245.4 580.4,246.4 C581.3,247.4 581.9,248.7 582.2,249.9 C582.5,251.2 582.5,252.6 582.2,253.9 C582,255.2 581.4,256.5 580.7,257.6 C580.1,258.8 579.3,259.8 578.4,260.9 C577.6,261.9 576.7,262.9 575.7,263.8 C574.8,264.7 573.7,265.6 572.7,266.4 C571.6,267.1 570.4,267.9 569.2,268.4 C568,269 566.8,269.5 565.5,269.9 C564.2,270.2 562.9,270.5 561.6,270.6 C560.3,270.8 558.9,270.8 557.6,270.8 C556.3,270.7 554.9,270.5 553.6,270.2 C552.3,269.9 551.1,269.4 549.8,268.9 C548.6,268.4 547.4,267.8 546.3,267.1 C545.2,266.4 544.1,265.6 543.1,264.7 C542.2,263.8 541.3,262.8 540.5,261.7 C539.7,260.6 539,259.5 538.4,258.3 C537.7,257.1 537,255.9 536.7,254.6 C536.4,253.4 536.2,251.9 536.4,250.7 C536.7,249.4 537.4,248.1 538.3,247.2 C539.2,246.3 540.5,245.6 541.8,245.2 C543,244.8 544.4,244.8 545.7,244.9 C547,245 548.4,245.3 549.7,245.6 C550.9,246 552.2,246.5 553.4,247.1 C554.5,247.7 555.6,248.5 556.7,249.3 C557.8,250.1 558.8,251 559.7,252 C560.6,252.9 561.5,253.9 562.3,255 C563.1,256 563.9,257.2 564.5,258.3 C565.1,259.5 565.7,260.7 566.2,262 C566.6,263.2 566.9,264.5 567.1,265.8 C567.3,267.2 567.3,268.5 567.3,269.8 C567.2,271.2 566.9,273.1 566.8,273.8"/><path d="M575.7,275.6 C576.2,276.1 577.7,277.4 578.6,278.4 C579.4,279.4 580.2,280.5 580.9,281.7 C581.6,282.8 582.1,284.1 582.6,285.3 C583.1,286.5 583.4,287.9 583.6,289.2 C583.8,290.5 584.1,291.9 583.9,293.1 C583.8,294.4 583.4,295.9 582.6,296.9 C581.9,297.9 580.5,298.6 579.3,299 C578.1,299.3 576.6,299.1 575.3,298.8 C574,298.6 572.8,297.9 571.7,297.3 C570.5,296.6 569.4,295.8 568.3,295.1 C567.3,294.3 566.2,293.4 565.2,292.5 C564.3,291.6 563.3,290.6 562.5,289.6 C561.6,288.6 560.8,287.5 560,286.5 C559.3,285.4 558.6,284.2 557.9,283 C557.3,281.9 556.7,280.7 556.2,279.4 C555.8,278.2 555.4,276.9 555.1,275.6 C554.8,274.3 554.6,273 554.4,271.7 C554.3,270.3 554.1,269 554.2,267.7 C554.3,266.3 554.4,265 554.8,263.7 C555.2,262.5 555.9,261.2 556.7,260.2 C557.6,259.2 558.7,258.4 559.8,257.7 C561,257.1 562.3,256.6 563.6,256.3 C564.8,256 566.2,255.9 567.5,255.8 C568.8,255.8 570.2,255.9 571.5,256.1 C572.8,256.4 574.1,256.8 575.4,257.2 C576.6,257.7 577.8,258.3 578.9,259 C580.1,259.7 581.1,260.5 582.1,261.4 C583.1,262.3 584.1,263.2 584.9,264.3 C585.7,265.3 586.4,266.5 587.1,267.6 C587.7,268.8 588.2,270.1 588.6,271.3 C589,272.6 589.3,273.9 589.5,275.2 C589.6,276.5 589.7,277.9 589.7,279.2 C589.7,280.6 589.7,281.9 589.5,283.2 C589.4,284.5 589.2,285.9 588.8,287.1 C588.4,288.4 588,289.7 587.3,290.8 C586.6,291.9 585.6,293 584.5,293.7 C583.5,294.5 582.1,294.9 580.9,295.3 C579.6,295.6 578.2,295.7 576.9,295.7 C575.6,295.7 574.2,295.6 572.9,295.4 C571.6,295.2 570.3,294.9 569,294.6 C567.7,294.2 566.5,293.8 565.2,293.3 C564,292.8 562.8,292.2 561.6,291.5 C560.5,290.9 559.3,290.2 558.2,289.5 C557.1,288.7 556.1,287.9 555,287 C554,286.2 553,285.3 552.1,284.3 C551.2,283.3 550.3,282.3 549.7,281.2 C549.1,280 548.7,278.6 548.5,277.3 C548.4,276 548.6,274.6 549,273.4 C549.4,272.1 550.1,270.9 550.9,269.9 C551.7,268.8 552.7,267.9 553.7,267.1 C554.8,266.3 556,265.6 557.2,265.1 C558.4,264.5 559.7,264.1 560.9,263.7 C562.2,263.4 563.6,263.3 564.9,263.2 C566.2,263.2 567.6,263.3 568.9,263.5 C570.2,263.7 571.5,264 572.8,264.3 C574.1,264.7 575.4,265.1 576.6,265.6 C577.8,266.2 579.6,267.1 580.2,267.4"/><path d="M588.8,289.4 C589.5,289.3 591.4,289 592.8,288.9 C594.1,288.9 595.4,289 596.7,289.3 C598,289.5 599.4,289.8 600.6,290.3 C601.9,290.7 603.1,291.3 604.2,291.9 C605.4,292.6 606.5,293.3 607.5,294.2 C608.5,295.1 609.6,296.1 610,297.3 C610.4,298.5 610.4,300 610.1,301.3 C609.8,302.5 608.9,303.8 608,304.6 C607.1,305.5 605.7,306.1 604.5,306.5 C603.3,306.8 601.8,306.8 600.5,306.8 C599.2,306.7 597.9,306.4 596.6,306.1 C595.3,305.8 594,305.4 592.7,305 C591.5,304.6 590.2,304.1 589,303.5 C587.8,303 586.6,302.4 585.5,301.7 C584.3,301 583.3,300.2 582.2,299.4 C581.2,298.6 580.2,297.7 579.2,296.7 C578.3,295.8 577.3,294.8 576.5,293.8 C575.7,292.7 574.9,291.6 574.3,290.4 C573.7,289.2 573.3,288 572.9,286.7 C572.5,285.4 572.3,284.1 572.1,282.8 C572,281.5 571.9,280.1 572,278.8 C572,277.5 572.1,276.1 572.5,274.8 C573,273.6 573.6,272.3 574.5,271.4 C575.4,270.4 576.6,269.7 577.8,269.2 C579.1,268.8 580.5,268.7 581.8,268.7 C583.1,268.8 584.4,269.1 585.7,269.5 C587,269.8 588.3,270.3 589.4,270.9 C590.6,271.5 591.8,272.2 592.8,273 C593.9,273.8 594.9,274.7 595.8,275.7 C596.7,276.7 597.5,277.7 598.2,278.9 C598.9,280 599.5,281.2 600,282.4 C600.4,283.7 600.8,285 601,286.3 C601.3,287.6 601.5,288.9 601.5,290.3 C601.6,291.6 601.5,292.9 601.4,294.3 C601.2,295.6 601,296.9 600.6,298.2 C600.3,299.5 599.8,300.7 599.2,301.9 C598.6,303.1 597.9,304.3 597.1,305.3 C596.3,306.3 595.3,307.3 594.3,308.2 C593.3,309.1 592.2,309.8 591,310.5 C589.9,311.1 588.6,311.7 587.3,312 C586.1,312.3 584.7,312.4 583.4,312.4 C582,312.4 580.7,312.2 579.4,311.9 C578.1,311.7 576.8,311.2 575.6,310.7 C574.4,310.2 573.2,309.6 572,308.9 C570.8,308.3 569.7,307.6 568.6,306.8 C567.5,306.1 566.4,305.3 565.5,304.3 C564.6,303.4 563.8,302.2 563.2,301.1 C562.6,299.9 562.2,298.6 562,297.3 C561.9,296 562,294.6 562.3,293.3 C562.6,292 563.2,290.8 563.9,289.7 C564.6,288.5 565.6,287.6 566.5,286.6 C567.4,285.7 568.4,284.8 569.5,284 C570.6,283.2 571.7,282.4 572.9,281.8 C574.1,281.2 575.3,280.7 576.6,280.3 C577.9,279.9 579.2,279.7 580.5,279.5 C581.8,279.3 583.1,279.1 584.5,279.1 C585.8,279 587.8,279.1 588.5,279.1"/><path d="M600.2,306.4 C600.9,306.5 602.9,306.4 604.2,306.5 C605.5,306.7 606.8,307 608.1,307.3 C609.4,307.7 610.7,308.2 611.9,308.6 C613.1,309.1 614.4,309.7 615.5,310.3 C616.7,310.9 618,311.6 618.9,312.4 C619.9,313.3 621.1,314.3 621.5,315.5 C621.9,316.6 621.8,318.2 621.4,319.4 C621,320.6 620.1,321.8 619.1,322.6 C618.1,323.4 616.7,324 615.4,324.2 C614.2,324.4 612.7,324.3 611.5,324 C610.2,323.8 608.9,323.3 607.7,322.8 C606.5,322.2 605.3,321.5 604.2,320.8 C603.1,320 602.1,319.1 601.2,318.2 C600.3,317.2 599.4,316.1 598.7,315 C598,313.9 597.4,312.7 596.9,311.5 C596.4,310.3 596,309 595.7,307.7 C595.5,306.4 595.4,305 595.4,303.7 C595.4,302.4 595.6,301 595.8,299.7 C596.1,298.4 596.5,297.1 596.9,295.9 C597.4,294.6 598,293.4 598.7,292.3 C599.3,291.1 600.1,290 601,289 C601.8,288 602.8,287 603.8,286.1 C604.8,285.3 605.8,284.4 607,283.8 C608.2,283.2 609.5,282.7 610.8,282.6 C612.1,282.6 613.5,282.8 614.7,283.4 C615.8,284 616.8,285.1 617.5,286.2 C618.3,287.3 618.8,288.6 619.1,289.9 C619.4,291.1 619.5,292.5 619.5,293.8 C619.5,295.2 619.2,296.5 618.9,297.8 C618.7,299.1 618.3,300.4 617.9,301.7 C617.5,302.9 616.9,304.1 616.3,305.3 C615.7,306.5 615,307.7 614.2,308.7 C613.5,309.8 612.6,310.9 611.7,311.8 C610.8,312.8 609.7,313.6 608.6,314.4 C607.6,315.2 606.4,315.8 605.2,316.4 C604,316.9 602.7,317.4 601.4,317.8 C600.2,318.2 598.9,318.5 597.6,318.8 C596.2,319 594.9,319.2 593.6,319.3 C592.3,319.3 590.9,319.2 589.6,319.1 C588.3,319 587,318.7 585.7,318.4 C584.4,318.1 583.1,317.7 581.8,317.2 C580.6,316.7 579.4,316.1 578.2,315.5 C577.1,314.8 575.9,314.1 574.9,313.2 C573.9,312.4 572.9,311.4 572.3,310.2 C571.8,309.1 571.5,307.6 571.6,306.3 C571.7,305.1 572.3,303.7 572.9,302.6 C573.6,301.5 574.6,300.5 575.6,299.7 C576.7,298.9 577.9,298.2 579.1,297.7 C580.3,297.2 581.6,296.8 582.9,296.6 C584.3,296.3 585.6,296.2 586.9,296.1 C588.3,296.1 589.6,296.1 590.9,296.3 C592.2,296.4 593.6,296.6 594.9,296.9 C596.2,297.1 597.5,297.6 598.7,298 C599.9,298.5 601.2,299 602.3,299.7 C603.5,300.3 604.6,301 605.7,301.8 C606.8,302.6 607.9,303.4 608.8,304.3 C609.8,305.2 611.2,306.7 611.7,307.1"/></g><g stroke="#a8a8a8" stroke-width="1.1"><line x1="410" y1="158.7" x2="410" y2="175.8"/><line x1="413" y1="156.4" x2="413" y2="171.8"/><line x1="416" y1="156.1" x2="416" y2="167.1"/><line x1="419" y1="157.7" x2="419" y2="162.5"/><line x1="422" y1="161.1" x2="422" y2="158.7"/><line x1="425" y1="165.5" x2="425" y2="156.4"/><line x1="428" y1="170.3" x2="428" y2="156.1"/><line x1="431" y1="174.6" x2="431" y2="157.7"/><line x1="434" y1="177.7" x2="434" y2="161.1"/><line x1="437" y1="179" x2="437" y2="165.5"/><line x1="440" y1="178.3" x2="440" y2="170.3"/><line x1="443" y1="175.8" x2="443" y2="174.6"/><line x1="446" y1="171.8" x2="446" y2="177.7"/><line x1="449" y1="167.1" x2="449" y2="179"/><line x1="452" y1="162.5" x2="452" y2="178.3"/><line x1="455" y1="158.7" x2="455" y2="175.8"/><line x1="458" y1="156.4" x2="458" y2="171.8"/><line x1="461" y1="156.1" x2="461" y2="167.1"/></g><path d="M409,159.8 L409.5,159.2 L410,158.7 L410.5,158.2 L411,157.7 L411.5,157.3 L412,157 L412.5,156.7 L413,156.4 L413.5,156.3 L414,156.1 L414.5,156 L415,156" fill="none" stroke="#8f8f8f" stroke-width="3.0"/><path d="M409,159.8 L409.5,159.2 L410,158.7 L410.5,158.2 L411,157.7 L411.5,157.3 L412,157 L412.5,156.7 L413,156.4 L413.5,156.3 L414,156.1 L414.5,156 L415,156" fill="none" stroke="#c9c9c9" stroke-width="1.4"/><path d="M438,179 L438.5,178.9 L439,178.7 L439.5,178.6 L440,178.3 L440.5,178 L441,177.7 L441.5,177.3 L442,176.8 L442.5,176.3 L443,175.8 L443.5,175.2 L444,174.6 L444.5,173.9 L445,173.2 L445.5,172.5 L446,171.8 L446.5,171.1 L447,170.3 L447.5,169.5 L448,168.7 L448.5,167.9 L449,167.1 L449.5,166.3 L450,165.5 L450.5,164.7 L451,163.9 L451.5,163.2 L452,162.5 L452.5,161.8 L453,161.1 L453.5,160.4 L454,159.8 L454.5,159.2 L455,158.7 L455.5,158.2 L456,157.7 L456.5,157.3 L457,157 L457.5,156.7 L458,156.4 L458.5,156.3 L459,156.1 L459.5,156 L460,156 L460.5,156" fill="none" stroke="#8f8f8f" stroke-width="3.0"/><path d="M438,179 L438.5,178.9 L439,178.7 L439.5,178.6 L440,178.3 L440.5,178 L441,177.7 L441.5,177.3 L442,176.8 L442.5,176.3 L443,175.8 L443.5,175.2 L444,174.6 L444.5,173.9 L445,173.2 L445.5,172.5 L446,171.8 L446.5,171.1 L447,170.3 L447.5,169.5 L448,168.7 L448.5,167.9 L449,167.1 L449.5,166.3 L450,165.5 L450.5,164.7 L451,163.9 L451.5,163.2 L452,162.5 L452.5,161.8 L453,161.1 L453.5,160.4 L454,159.8 L454.5,159.2 L455,158.7 L455.5,158.2 L456,157.7 L456.5,157.3 L457,157 L457.5,156.7 L458,156.4 L458.5,156.3 L459,156.1 L459.5,156 L460,156 L460.5,156" fill="none" stroke="#c9c9c9" stroke-width="1.4"/><path d="M409,176.8 L409.5,176.3 L410,175.8 L410.5,175.2 L411,174.6 L411.5,173.9 L412,173.2 L412.5,172.5 L413,171.8 L413.5,171.1 L414,170.3 L414.5,169.5 L415,168.7 L415.5,167.9 L416,167.1 L416.5,166.3 L417,165.5 L417.5,164.7 L418,163.9 L418.5,163.2 L419,162.5 L419.5,161.8 L420,161.1 L420.5,160.4 L421,159.8 L421.5,159.2 L422,158.7 L422.5,158.2 L423,157.7 L423.5,157.3 L424,157 L424.5,156.7 L425,156.4 L425.5,156.3 L426,156.1 L426.5,156 L427,156" fill="none" stroke="#8f8f8f" stroke-width="3.0"/><path d="M409,176.8 L409.5,176.3 L410,175.8 L410.5,175.2 L411,174.6 L411.5,173.9 L412,173.2 L412.5,172.5 L413,171.8 L413.5,171.1 L414,170.3 L414.5,169.5 L415,168.7 L415.5,167.9 L416,167.1 L416.5,166.3 L417,165.5 L417.5,164.7 L418,163.9 L418.5,163.2 L419,162.5 L419.5,161.8 L420,161.1 L420.5,160.4 L421,159.8 L421.5,159.2 L422,158.7 L422.5,158.2 L423,157.7 L423.5,157.3 L424,157 L424.5,156.7 L425,156.4 L425.5,156.3 L426,156.1 L426.5,156 L427,156" fill="none" stroke="#c9c9c9" stroke-width="1.4"/><path d="M449.5,179 L450,179 L450.5,178.9 L451,178.7 L451.5,178.6 L452,178.3 L452.5,178 L453,177.7 L453.5,177.3 L454,176.8 L454.5,176.3 L455,175.8 L455.5,175.2 L456,174.6 L456.5,173.9 L457,173.2 L457.5,172.5 L458,171.8 L458.5,171.1 L459,170.3 L459.5,169.5 L460,168.7 L460.5,167.9 L461,167.1 L461.5,166.3 L462,165.5" fill="none" stroke="#8f8f8f" stroke-width="3.0"/><path d="M449.5,179 L450,179 L450.5,178.9 L451,178.7 L451.5,178.6 L452,178.3 L452.5,178 L453,177.7 L453.5,177.3 L454,176.8 L454.5,176.3 L455,175.8 L455.5,175.2 L456,174.6 L456.5,173.9 L457,173.2 L457.5,172.5 L458,171.8 L458.5,171.1 L459,170.3 L459.5,169.5 L460,168.7 L460.5,167.9 L461,167.1 L461.5,166.3 L462,165.5" fill="none" stroke="#c9c9c9" stroke-width="1.4"/><path d="M415,156 L415.5,156 L416,156.1 L416.5,156.3 L417,156.4 L417.5,156.7 L418,157 L418.5,157.3 L419,157.7 L419.5,158.2 L420,158.7 L420.5,159.2 L421,159.8 L421.5,160.4 L422,161.1 L422.5,161.8 L423,162.5 L423.5,163.2 L424,163.9 L424.5,164.7 L425,165.5 L425.5,166.3 L426,167.1 L426.5,167.9 L427,168.7 L427.5,169.5 L428,170.3 L428.5,171.1 L429,171.8 L429.5,172.5 L430,173.2 L430.5,173.9 L431,174.6 L431.5,175.2 L432,175.8 L432.5,176.3 L433,176.8 L433.5,177.3 L434,177.7 L434.5,178 L435,178.3 L435.5,178.6 L436,178.7 L436.5,178.9 L437,179 L437.5,179 L438,179" fill="none" stroke="#6a6a6a" stroke-width="4.0"/><path d="M415,156 L415.5,156 L416,156.1 L416.5,156.3 L417,156.4 L417.5,156.7 L418,157 L418.5,157.3 L419,157.7 L419.5,158.2 L420,158.7 L420.5,159.2 L421,159.8 L421.5,160.4 L422,161.1 L422.5,161.8 L423,162.5 L423.5,163.2 L424,163.9 L424.5,164.7 L425,165.5 L425.5,166.3 L426,167.1 L426.5,167.9 L427,168.7 L427.5,169.5 L428,170.3 L428.5,171.1 L429,171.8 L429.5,172.5 L430,173.2 L430.5,173.9 L431,174.6 L431.5,175.2 L432,175.8 L432.5,176.3 L433,176.8 L433.5,177.3 L434,177.7 L434.5,178 L435,178.3 L435.5,178.6 L436,178.7 L436.5,178.9 L437,179 L437.5,179 L438,179" fill="none" stroke="#fdfdfd" stroke-width="2.4"/><path d="M460.5,156 L461,156.1 L461.5,156.3 L462,156.4" fill="none" stroke="#6a6a6a" stroke-width="4.0"/><path d="M460.5,156 L461,156.1 L461.5,156.3 L462,156.4" fill="none" stroke="#fdfdfd" stroke-width="2.4"/><path d="M427,156 L427.5,156 L428,156.1 L428.5,156.3 L429,156.4 L429.5,156.7 L430,157 L430.5,157.3 L431,157.7 L431.5,158.2 L432,158.7 L432.5,159.2 L433,159.8 L433.5,160.4 L434,161.1 L434.5,161.8 L435,162.5 L435.5,163.2 L436,163.9 L436.5,164.7 L437,165.5 L437.5,166.3 L438,167.1 L438.5,167.9 L439,168.7 L439.5,169.5 L440,170.3 L440.5,171.1 L441,171.8 L441.5,172.5 L442,173.2 L442.5,173.9 L443,174.6 L443.5,175.2 L444,175.8 L444.5,176.3 L445,176.8 L445.5,177.3 L446,177.7 L446.5,178 L447,178.3 L447.5,178.6 L448,178.7 L448.5,178.9 L449,179 L449.5,179" fill="none" stroke="#6a6a6a" stroke-width="4.0"/><path d="M427,156 L427.5,156 L428,156.1 L428.5,156.3 L429,156.4 L429.5,156.7 L430,157 L430.5,157.3 L431,157.7 L431.5,158.2 L432,158.7 L432.5,159.2 L433,159.8 L433.5,160.4 L434,161.1 L434.5,161.8 L435,162.5 L435.5,163.2 L436,163.9 L436.5,164.7 L437,165.5 L437.5,166.3 L438,167.1 L438.5,167.9 L439,168.7 L439.5,169.5 L440,170.3 L440.5,171.1 L441,171.8 L441.5,172.5 L442,173.2 L442.5,173.9 L443,174.6 L443.5,175.2 L444,175.8 L444.5,176.3 L445,176.8 L445.5,177.3 L446,177.7 L446.5,178 L447,178.3 L447.5,178.6 L448,178.7 L448.5,178.9 L449,179 L449.5,179" fill="none" stroke="#fdfdfd" stroke-width="2.4"/><path d="M471,147 C481,145.5 493,146 498.5,150 C503.5,154 503.5,170 502,180 C500.5,188 494,191.5 484,191.5 C474,191.5 465.5,190 462.5,184 C460,178 460.5,160 462.5,154 C464,150 466.5,147.8 471,147 Z" fill="url(#blob)" stroke="#a0a0a0" stroke-width="0.9"/><g clip-path="url(#hb)"></g><g stroke="#a8a8a8" stroke-width="1.1"><line x1="461" y1="156.1" x2="461" y2="167.1"/><line x1="464" y1="157.7" x2="464" y2="162.5"/><line x1="467" y1="161.1" x2="467" y2="158.7"/><line x1="470" y1="165.5" x2="470" y2="156.4"/><line x1="473" y1="170.3" x2="473" y2="156.1"/><line x1="476" y1="174.6" x2="476" y2="157.7"/></g><path d="M460,156 L460.5,156" fill="none" stroke="#8f8f8f" stroke-width="3.0"/><path d="M460,156 L460.5,156" fill="none" stroke="#c9c9c9" stroke-width="1.4"/><path d="M460,168.7 L460.5,167.9 L461,167.1 L461.5,166.3 L462,165.5 L462.5,164.7 L463,163.9 L463.5,163.2 L464,162.5 L464.5,161.8 L465,161.1 L465.5,160.4 L466,159.8 L466.5,159.2 L467,158.7 L467.5,158.2 L468,157.7 L468.5,157.3 L469,157 L469.5,156.7 L470,156.4 L470.5,156.3 L471,156.1 L471.5,156 L472,156 L472.5,156" fill="none" stroke="#8f8f8f" stroke-width="3.0"/><path d="M460,168.7 L460.5,167.9 L461,167.1 L461.5,166.3 L462,165.5 L462.5,164.7 L463,163.9 L463.5,163.2 L464,162.5 L464.5,161.8 L465,161.1 L465.5,160.4 L466,159.8 L466.5,159.2 L467,158.7 L467.5,158.2 L468,157.7 L468.5,157.3 L469,157 L469.5,156.7 L470,156.4 L470.5,156.3 L471,156.1 L471.5,156 L472,156 L472.5,156" fill="none" stroke="#c9c9c9" stroke-width="1.4"/><path d="M460.5,156 L461,156.1 L461.5,156.3 L462,156.4 L462.5,156.7 L463,157 L463.5,157.3 L464,157.7 L464.5,158.2 L465,158.7 L465.5,159.2 L466,159.8 L466.5,160.4 L467,161.1 L467.5,161.8 L468,162.5 L468.5,163.2 L469,163.9 L469.5,164.7 L470,165.5 L470.5,166.3 L471,167.1 L471.5,167.9 L472,168.7 L472.5,169.5 L473,170.3 L473.5,171.1 L474,171.8 L474.5,172.5 L475,173.2 L475.5,173.9 L476,174.6 L476.5,175.2 L477,175.8 L477.5,176.3 L478,176.8 L478.5,177.3 L479,177.7" fill="none" stroke="#6a6a6a" stroke-width="4.0"/><path d="M460.5,156 L461,156.1 L461.5,156.3 L462,156.4 L462.5,156.7 L463,157 L463.5,157.3 L464,157.7 L464.5,158.2 L465,158.7 L465.5,159.2 L466,159.8 L466.5,160.4 L467,161.1 L467.5,161.8 L468,162.5 L468.5,163.2 L469,163.9 L469.5,164.7 L470,165.5 L470.5,166.3 L471,167.1 L471.5,167.9 L472,168.7 L472.5,169.5 L473,170.3 L473.5,171.1 L474,171.8 L474.5,172.5 L475,173.2 L475.5,173.9 L476,174.6 L476.5,175.2 L477,175.8 L477.5,176.3 L478,176.8 L478.5,177.3 L479,177.7" fill="none" stroke="#fdfdfd" stroke-width="2.4"/><path d="M472.5,156 L473,156.1 L473.5,156.3 L474,156.4 L474.5,156.7 L475,157 L475.5,157.3 L476,157.7 L476.5,158.2 L477,158.7 L477.5,159.2 L478,159.8 L478.5,160.4 L479,161.1" fill="none" stroke="#6a6a6a" stroke-width="4.0"/><path d="M472.5,156 L473,156.1 L473.5,156.3 L474,156.4 L474.5,156.7 L475,157 L475.5,157.3 L476,157.7 L476.5,158.2 L477,158.7 L477.5,159.2 L478,159.8 L478.5,160.4 L479,161.1" fill="none" stroke="#fdfdfd" stroke-width="2.4"/><g stroke="#a8a8a8" stroke-width="1.1"><line x1="503" y1="156.4" x2="503" y2="171.8"/><line x1="506" y1="156.1" x2="506" y2="167.1"/><line x1="509" y1="157.7" x2="509" y2="162.5"/><line x1="512" y1="161.1" x2="512" y2="158.7"/><line x1="515" y1="165.5" x2="515" y2="156.4"/><line x1="518" y1="170.3" x2="518" y2="156.1"/><line x1="521" y1="174.6" x2="521" y2="157.7"/><line x1="524" y1="177.7" x2="524" y2="161.1"/><line x1="527" y1="179" x2="527" y2="165.5"/><line x1="530" y1="178.3" x2="530" y2="170.3"/></g><path d="M502,157 L502.5,156.7 L503,156.4 L503.5,156.3 L504,156.1 L504.5,156 L505,156 L505.5,156" fill="none" stroke="#8f8f8f" stroke-width="3.0"/><path d="M502,157 L502.5,156.7 L503,156.4 L503.5,156.3 L504,156.1 L504.5,156 L505,156 L505.5,156" fill="none" stroke="#c9c9c9" stroke-width="1.4"/><path d="M528,179 L528.5,178.9 L529,178.7 L529.5,178.6 L530,178.3 L530.5,178 L531,177.7" fill="none" stroke="#8f8f8f" stroke-width="3.0"/><path d="M528,179 L528.5,178.9 L529,178.7 L529.5,178.6 L530,178.3 L530.5,178 L531,177.7" fill="none" stroke="#c9c9c9" stroke-width="1.4"/><path d="M502,173.3 L502.5,172.5 L503,171.8 L503.5,171.1 L504,170.3 L504.5,169.5 L505,168.7 L505.5,167.9 L506,167.1 L506.5,166.3 L507,165.5 L507.5,164.7 L508,163.9 L508.5,163.2 L509,162.5 L509.5,161.8 L510,161.1 L510.5,160.4 L511,159.8 L511.5,159.2 L512,158.7 L512.5,158.2 L513,157.7 L513.5,157.3 L514,157 L514.5,156.7 L515,156.4 L515.5,156.3 L516,156.1 L516.5,156 L517,156 L517.5,156" fill="none" stroke="#8f8f8f" stroke-width="3.0"/><path d="M502,173.3 L502.5,172.5 L503,171.8 L503.5,171.1 L504,170.3 L504.5,169.5 L505,168.7 L505.5,167.9 L506,167.1 L506.5,166.3 L507,165.5 L507.5,164.7 L508,163.9 L508.5,163.2 L509,162.5 L509.5,161.8 L510,161.1 L510.5,160.4 L511,159.8 L511.5,159.2 L512,158.7 L512.5,158.2 L513,157.7 L513.5,157.3 L514,157 L514.5,156.7 L515,156.4 L515.5,156.3 L516,156.1 L516.5,156 L517,156 L517.5,156" fill="none" stroke="#c9c9c9" stroke-width="1.4"/><path d="M505.5,156 L506,156.1 L506.5,156.3 L507,156.4 L507.5,156.7 L508,157 L508.5,157.3 L509,157.7 L509.5,158.2 L510,158.7 L510.5,159.2 L511,159.8 L511.5,160.4 L512,161.1 L512.5,161.8 L513,162.5 L513.5,163.2 L514,163.9 L514.5,164.7 L515,165.5 L515.5,166.3 L516,167.1 L516.5,167.9 L517,168.7 L517.5,169.5 L518,170.3 L518.5,171.1 L519,171.8 L519.5,172.5 L520,173.2 L520.5,173.9 L521,174.6 L521.5,175.2 L522,175.8 L522.5,176.3 L523,176.8 L523.5,177.3 L524,177.7 L524.5,178 L525,178.3 L525.5,178.6 L526,178.7 L526.5,178.9 L527,179 L527.5,179 L528,179" fill="none" stroke="#6a6a6a" stroke-width="4.0"/><path d="M505.5,156 L506,156.1 L506.5,156.3 L507,156.4 L507.5,156.7 L508,157 L508.5,157.3 L509,157.7 L509.5,158.2 L510,158.7 L510.5,159.2 L511,159.8 L511.5,160.4 L512,161.1 L512.5,161.8 L513,162.5 L513.5,163.2 L514,163.9 L514.5,164.7 L515,165.5 L515.5,166.3 L516,167.1 L516.5,167.9 L517,168.7 L517.5,169.5 L518,170.3 L518.5,171.1 L519,171.8 L519.5,172.5 L520,173.2 L520.5,173.9 L521,174.6 L521.5,175.2 L522,175.8 L522.5,176.3 L523,176.8 L523.5,177.3 L524,177.7 L524.5,178 L525,178.3 L525.5,178.6 L526,178.7 L526.5,178.9 L527,179 L527.5,179 L528,179" fill="none" stroke="#fdfdfd" stroke-width="2.4"/><path d="M517.5,156 L518,156.1 L518.5,156.3 L519,156.4 L519.5,156.7 L520,157 L520.5,157.3 L521,157.7 L521.5,158.2 L522,158.7 L522.5,159.2 L523,159.8 L523.5,160.4 L524,161.1 L524.5,161.8 L525,162.5 L525.5,163.2 L526,163.9 L526.5,164.7 L527,165.5 L527.5,166.3 L528,167.1 L528.5,167.9 L529,168.7 L529.5,169.5 L530,170.3 L530.5,171.1 L531,171.8" fill="none" stroke="#6a6a6a" stroke-width="4.0"/><path d="M517.5,156 L518,156.1 L518.5,156.3 L519,156.4 L519.5,156.7 L520,157 L520.5,157.3 L521,157.7 L521.5,158.2 L522,158.7 L522.5,159.2 L523,159.8 L523.5,160.4 L524,161.1 L524.5,161.8 L525,162.5 L525.5,163.2 L526,163.9 L526.5,164.7 L527,165.5 L527.5,166.3 L528,167.1 L528.5,167.9 L529,168.7 L529.5,169.5 L530,170.3 L530.5,171.1 L531,171.8" fill="none" stroke="#fdfdfd" stroke-width="2.4"/><path d="M494,190 C494.4,191 495.7,194.2 496.5,196 C497.3,197.8 497.9,199.6 499,201 C500.1,202.4 502,204 503,204.7 C504,205.3 504.3,204.9 505,204.8 C505.6,204.8 506.3,204.7 506.9,204.5 C507.4,204.4 508,204.1 508.5,203.8 C508.9,203.5 509.3,203.2 509.7,202.8 C510,202.4 510.2,202 510.4,201.6 C510.5,201.3 510.6,200.9 510.6,200.5 C510.6,200.2 510.5,199.9 510.4,199.6 C510.2,199.4 510,199.2 509.8,199 C509.5,198.9 509.2,198.9 509,198.9 C508.7,199 508.4,199.1 508.1,199.3 C507.8,199.5 507.6,199.8 507.4,200.2 C507.2,200.5 507,201 506.9,201.5 C506.8,201.9 506.8,202.5 506.9,203 C506.9,203.6 507.1,204.2 507.3,204.7 C507.5,205.3 507.8,205.9 508.2,206.4 C508.6,206.9 509.1,207.4 509.6,207.9 C510.1,208.3 510.7,208.7 511.3,209 C511.9,209.3 512.6,209.5 513.3,209.7 C514,209.8 514.6,209.9 515.3,209.8 C515.9,209.8 516.6,209.7 517.2,209.5 C517.8,209.4 518.3,209.1 518.8,208.8 C519.3,208.5 519.7,208.2 520,207.8 C520.3,207.4 520.6,207 520.7,206.6 C520.9,206.3 520.9,205.9 520.9,205.5 C520.9,205.2 520.8,204.9 520.7,204.6 C520.6,204.4 520.3,204.2 520.1,204 C519.9,203.9 519.6,203.9 519.3,203.9 C519,204 518.7,204.1 518.4,204.3 C518.2,204.5 517.9,204.8 517.7,205.2 C517.5,205.5 517.3,206 517.2,206.5 C517.2,206.9 517.1,207.5 517.2,208 C517.3,208.6 517.4,209.2 517.6,209.7 C517.8,210.3 518.2,210.9 518.5,211.4 C518.9,211.9 519.4,212.4 519.9,212.9 C520.4,213.3 521.1,213.7 521.7,214 C522.3,214.3 523,214.5 523.6,214.7 C524.3,214.8 525,214.9 525.6,214.8 C526.3,214.8 526.9,214.7 527.5,214.5 C528.1,214.4 528.7,214.1 529.1,213.8 C529.6,213.5 530,213.2 530.3,212.8 C530.6,212.4 530.9,212 531,211.6 C531.2,211.3 531.3,210.9 531.3,210.5 C531.3,210.2 531.2,209.9 531,209.6 C530.9,209.4 530.7,209.2 530.4,209 C530.2,208.9 529.9,208.9 529.6,208.9 C529.4,209 529,209.1 528.8,209.3 C528.5,209.5 528.2,209.8 528,210.2 C527.8,210.5 527.7,211 527.6,211.5 C527.5,211.9 527.5,212.5 527.5,213 C527.6,213.6 527.7,214.2 528,214.7 C528.2,215.3 528.5,215.9 528.9,216.4 C529.3,216.9 529.7,217.4 530.3,217.9 C530.8,218.3 531.2,218.8 532,219 C532.8,219.2 533.8,218.6 535,219 C536.2,219.4 537.8,221 539,221.5 C540.2,222 541,221.5 542,222 C543,222.5 544.3,223.7 545,224.5 C545.7,225.3 545.8,226.6 546,227" fill="none" stroke="#7a7a7a" stroke-width="3.2"/><path d="M494,190 C494.4,191 495.7,194.2 496.5,196 C497.3,197.8 497.9,199.6 499,201 C500.1,202.4 502,204 503,204.7 C504,205.3 504.3,204.9 505,204.8 C505.6,204.8 506.3,204.7 506.9,204.5 C507.4,204.4 508,204.1 508.5,203.8 C508.9,203.5 509.3,203.2 509.7,202.8 C510,202.4 510.2,202 510.4,201.6 C510.5,201.3 510.6,200.9 510.6,200.5 C510.6,200.2 510.5,199.9 510.4,199.6 C510.2,199.4 510,199.2 509.8,199 C509.5,198.9 509.2,198.9 509,198.9 C508.7,199 508.4,199.1 508.1,199.3 C507.8,199.5 507.6,199.8 507.4,200.2 C507.2,200.5 507,201 506.9,201.5 C506.8,201.9 506.8,202.5 506.9,203 C506.9,203.6 507.1,204.2 507.3,204.7 C507.5,205.3 507.8,205.9 508.2,206.4 C508.6,206.9 509.1,207.4 509.6,207.9 C510.1,208.3 510.7,208.7 511.3,209 C511.9,209.3 512.6,209.5 513.3,209.7 C514,209.8 514.6,209.9 515.3,209.8 C515.9,209.8 516.6,209.7 517.2,209.5 C517.8,209.4 518.3,209.1 518.8,208.8 C519.3,208.5 519.7,208.2 520,207.8 C520.3,207.4 520.6,207 520.7,206.6 C520.9,206.3 520.9,205.9 520.9,205.5 C520.9,205.2 520.8,204.9 520.7,204.6 C520.6,204.4 520.3,204.2 520.1,204 C519.9,203.9 519.6,203.9 519.3,203.9 C519,204 518.7,204.1 518.4,204.3 C518.2,204.5 517.9,204.8 517.7,205.2 C517.5,205.5 517.3,206 517.2,206.5 C517.2,206.9 517.1,207.5 517.2,208 C517.3,208.6 517.4,209.2 517.6,209.7 C517.8,210.3 518.2,210.9 518.5,211.4 C518.9,211.9 519.4,212.4 519.9,212.9 C520.4,213.3 521.1,213.7 521.7,214 C522.3,214.3 523,214.5 523.6,214.7 C524.3,214.8 525,214.9 525.6,214.8 C526.3,214.8 526.9,214.7 527.5,214.5 C528.1,214.4 528.7,214.1 529.1,213.8 C529.6,213.5 530,213.2 530.3,212.8 C530.6,212.4 530.9,212 531,211.6 C531.2,211.3 531.3,210.9 531.3,210.5 C531.3,210.2 531.2,209.9 531,209.6 C530.9,209.4 530.7,209.2 530.4,209 C530.2,208.9 529.9,208.9 529.6,208.9 C529.4,209 529,209.1 528.8,209.3 C528.5,209.5 528.2,209.8 528,210.2 C527.8,210.5 527.7,211 527.6,211.5 C527.5,211.9 527.5,212.5 527.5,213 C527.6,213.6 527.7,214.2 528,214.7 C528.2,215.3 528.5,215.9 528.9,216.4 C529.3,216.9 529.7,217.4 530.3,217.9 C530.8,218.3 531.2,218.8 532,219 C532.8,219.2 533.8,218.6 535,219 C536.2,219.4 537.8,221 539,221.5 C540.2,222 541,221.5 542,222 C543,222.5 544.3,223.7 545,224.5 C545.7,225.3 545.8,226.6 546,227" fill="none" stroke="#fafafa" stroke-width="1.7"/><path d="M581,276 C584,279 586,280 588,279 C590,278 592,277 594,276 M588,279 C587,282 586.5,284 586,287" fill="none" stroke="#6a6a6a" stroke-width="2.4"/><path d="M581,276 C584,279 586,280 588,279 C590,278 592,277 594,276 M588,279 C587,282 586.5,284 586,287" fill="none" stroke="#bdbdbd" stroke-width="0.9"/><clipPath id="pc1"><path d="M558.5,240.5 C558.5,241.5 558.4,242.4 558.1,243.3 C557.9,244.3 557.6,245.4 557,246.1 C556.3,246.8 555.2,247.2 554.3,247.6 C553.4,248 552.5,248.4 551.5,248.6 C550.5,248.8 549.4,248.9 548.5,248.7 C547.6,248.5 546.7,247.8 545.9,247.3 C545,246.8 544.1,246.4 543.4,245.8 C542.7,245.1 542.2,244.2 541.8,243.4 C541.4,242.5 540.9,241.4 541,240.5 C541.1,239.6 542,238.7 542.4,237.9 C542.8,237 543,236 543.6,235.4 C544.2,234.7 545.1,234.4 545.9,233.8 C546.8,233.3 547.5,232.3 548.4,232.1 C549.4,231.8 550.6,231.9 551.5,232.2 C552.5,232.5 553.1,233.4 554,233.9 C554.9,234.3 556.3,234.3 557,234.9 C557.8,235.5 558.4,236.6 558.6,237.5 C558.9,238.5 558.6,239.5 558.5,240.5Z"/></clipPath><path d="M558.5,240.5 C558.5,241.5 558.4,242.4 558.1,243.3 C557.9,244.3 557.6,245.4 557,246.1 C556.3,246.8 555.2,247.2 554.3,247.6 C553.4,248 552.5,248.4 551.5,248.6 C550.5,248.8 549.4,248.9 548.5,248.7 C547.6,248.5 546.7,247.8 545.9,247.3 C545,246.8 544.1,246.4 543.4,245.8 C542.7,245.1 542.2,244.2 541.8,243.4 C541.4,242.5 540.9,241.4 541,240.5 C541.1,239.6 542,238.7 542.4,237.9 C542.8,237 543,236 543.6,235.4 C544.2,234.7 545.1,234.4 545.9,233.8 C546.8,233.3 547.5,232.3 548.4,232.1 C549.4,231.8 550.6,231.9 551.5,232.2 C552.5,232.5 553.1,233.4 554,233.9 C554.9,234.3 556.3,234.3 557,234.9 C557.8,235.5 558.4,236.6 558.6,237.5 C558.9,238.5 558.6,239.5 558.5,240.5Z" fill="url(#prot)" stroke="none"/><g clip-path="url(#pc1)" fill="none"><path d="M555.6,235.8 q1.8,-0 2.8,0.2 t2.3,-0.6 t2.8,-0.5" stroke="#808080" stroke-width="0.7"/><path d="M552.9,239.1 q-0.5,-1.1 2.4,0.4 t3.8,-0.3 t3.6,-0.4" stroke="#e2e2e2" stroke-width="0.7"/><path d="M554.5,236.2 q0.3,-0.5 3.7,0.5 t2.2,-0.8 t2.9,-0.6" stroke="#808080" stroke-width="0.7"/><path d="M545.5,247.9 q1.8,-2.4 2,0.3 t3.9,0.8 t3.4,0.5" stroke="#e2e2e2" stroke-width="0.7"/><path d="M549.7,240.3 q1.4,-2 3.4,0.4 t2.3,0.5 t2.3,0.9" stroke="#808080" stroke-width="0.7"/><path d="M554.5,239.8 q0.3,2.4 2.7,-0.6 t3.4,0.8 t2.3,0.5" stroke="#e2e2e2" stroke-width="0.7"/><path d="M548.1,243.6 q-0.1,2.3 3.2,0.9 t3.9,-0.7 t3.9,0.5" stroke="#808080" stroke-width="0.7"/><path d="M543.9,241.8 q-0.9,-2.3 2.1,-0.3 t3.7,-0.9 t3.2,0.7" stroke="#e2e2e2" stroke-width="0.7"/><path d="M547.6,244.1 q0.4,1.3 3,1 t2.8,-0.6 t2.2,-0.5" stroke="#808080" stroke-width="0.7"/><path d="M543.4,247.7 q-1.5,1.7 3.5,-0.1 t2.1,-0.6 t3.9,-0.2" stroke="#e2e2e2" stroke-width="0.7"/><path d="M554.8,234.3 q-1.8,-0.7 2.7,-0.6 t3.3,0.2 t3.1,-0.4" stroke="#808080" stroke-width="0.7"/><path d="M548.5,236.7 q0.2,-0.6 3.3,0.9 t2.6,0.2 t2.2,0.7" stroke="#e2e2e2" stroke-width="0.7"/><path d="M550.6,242 q0.2,-1.9 3.8,-1 t2.4,-0 t3.8,0.4" stroke="#808080" stroke-width="0.7"/><path d="M556.9,237.9 q0.2,0.5 2.5,-0.8 t2.7,-0.8 t2,-0.6" stroke="#e2e2e2" stroke-width="0.7"/></g><path d="M558.5,240.5 C558.5,241.5 558.4,242.4 558.1,243.3 C557.9,244.3 557.6,245.4 557,246.1 C556.3,246.8 555.2,247.2 554.3,247.6 C553.4,248 552.5,248.4 551.5,248.6 C550.5,248.8 549.4,248.9 548.5,248.7 C547.6,248.5 546.7,247.8 545.9,247.3 C545,246.8 544.1,246.4 543.4,245.8 C542.7,245.1 542.2,244.2 541.8,243.4 C541.4,242.5 540.9,241.4 541,240.5 C541.1,239.6 542,238.7 542.4,237.9 C542.8,237 543,236 543.6,235.4 C544.2,234.7 545.1,234.4 545.9,233.8 C546.8,233.3 547.5,232.3 548.4,232.1 C549.4,231.8 550.6,231.9 551.5,232.2 C552.5,232.5 553.1,233.4 554,233.9 C554.9,234.3 556.3,234.3 557,234.9 C557.8,235.5 558.4,236.6 558.6,237.5 C558.9,238.5 558.6,239.5 558.5,240.5Z" fill="none" stroke="#6a6a6a" stroke-width="0.95"/><clipPath id="pc2"><path d="M583,236 C585,233 590,232 594,233 C599,235 601,240 600,245 C599,250 594,253.5 589,253.5 C583.5,253.5 579.5,249 579.5,244 C579.5,240 581,238 584,238.5 C586,239 587.5,238 588,236.5 C586,235 584.5,235 583,236 Z"/></clipPath><path d="M583,236 C585,233 590,232 594,233 C599,235 601,240 600,245 C599,250 594,253.5 589,253.5 C583.5,253.5 579.5,249 579.5,244 C579.5,240 581,238 584,238.5 C586,239 587.5,238 588,236.5 C586,235 584.5,235 583,236 Z" fill="url(#prot)" stroke="none"/><g clip-path="url(#pc2)" fill="none"><path d="M589.6,246.7 q0.5,1 3.8,0.5 t2.3,-0.6 t2.9,-0.2" stroke="#808080" stroke-width="0.7"/><path d="M600.2,248 q-0.1,-0.7 2.5,0.2 t3.8,-0.7 t2.9,-0.3" stroke="#e2e2e2" stroke-width="0.7"/><path d="M592.4,237.6 q-1.7,0.9 2.6,0.3 t3.8,0.2 t3.8,0.6" stroke="#808080" stroke-width="0.7"/><path d="M580.4,237.4 q0.6,-0.1 2,0.6 t3.3,-0.1 t3,-0.7" stroke="#e2e2e2" stroke-width="0.7"/><path d="M591.1,235.1 q0.7,2.2 2.4,-0.5 t3.2,0.8 t2.3,-0.2" stroke="#808080" stroke-width="0.7"/><path d="M592.3,235.6 q-1.7,1.2 3.2,0.2 t3.1,-0.8 t3,-0" stroke="#e2e2e2" stroke-width="0.7"/><path d="M590.3,235.6 q-1.7,0.1 3.4,0.3 t3.9,-0.3 t2.8,-0.3" stroke="#808080" stroke-width="0.7"/><path d="M590.1,246.7 q1.5,-2 3.2,0.5 t3.5,-0.1 t2.1,-0.4" stroke="#e2e2e2" stroke-width="0.7"/><path d="M592.1,249.1 q-1.1,-0.9 2.7,-0.9 t3.9,-0.3 t2.9,0.9" stroke="#808080" stroke-width="0.7"/><path d="M596.2,238 q1.8,1.6 3.1,-0.1 t3.7,0.8 t3.3,-0.4" stroke="#e2e2e2" stroke-width="0.7"/><path d="M598.2,246.5 q1.7,1.6 3.4,0.8 t2.9,0.2 t3.5,-0.1" stroke="#808080" stroke-width="0.7"/><path d="M581.8,250.2 q0.1,-0.2 3.1,-0.4 t3.7,-0.4 t2.5,0.3" stroke="#e2e2e2" stroke-width="0.7"/><path d="M589.7,238.9 q-1.7,-0.3 2.8,0.1 t3.3,-0.5 t2.1,-0.9" stroke="#808080" stroke-width="0.7"/><path d="M591.1,252.6 q1,2.1 2.3,-0.6 t3.4,-0.2 t2.8,0.7" stroke="#e2e2e2" stroke-width="0.7"/><path d="M580.8,252.7 q-1.2,0.4 3.3,0.1 t3.4,-0.4 t2.5,0.3" stroke="#808080" stroke-width="0.7"/><path d="M599.8,233.4 q-1.6,2.4 2.1,-0.7 t3,-0.4 t3.4,-0.1" stroke="#e2e2e2" stroke-width="0.7"/><path d="M596.5,234.4 q-1.1,-1.5 3.6,1 t2.8,-0.6 t2.1,-0.6" stroke="#808080" stroke-width="0.7"/><path d="M600.6,252.9 q1.7,-1.6 2.2,1 t3.4,0.8 t3.8,0.7" stroke="#e2e2e2" stroke-width="0.7"/><path d="M579.3,251.2 q0.3,2.4 2.4,-0.2 t2.2,0.5 t3.2,0.7" stroke="#808080" stroke-width="0.7"/><path d="M591.3,249.4 q-0.5,-2.2 2.1,-0.9 t2.1,0.5 t3.5,1" stroke="#e2e2e2" stroke-width="0.7"/><path d="M596.3,236.4 q-1.3,-0.7 2.7,-0.7 t3.5,0.5 t2.8,0.1" stroke="#808080" stroke-width="0.7"/><path d="M592.2,244.4 q0.4,0.7 4,-0.4 t2.2,-0.7 t3.2,-0" stroke="#e2e2e2" stroke-width="0.7"/><path d="M599.4,244 q1.6,1.7 2.7,-0.5 t3.3,-0.2 t2.3,-0.9" stroke="#808080" stroke-width="0.7"/><path d="M597.3,253.5 q0.9,-1.9 2,0.2 t2.8,0.9 t2.9,0.4" stroke="#e2e2e2" stroke-width="0.7"/></g><path d="M583,236 C585,233 590,232 594,233 C599,235 601,240 600,245 C599,250 594,253.5 589,253.5 C583.5,253.5 579.5,249 579.5,244 C579.5,240 581,238 584,238.5 C586,239 587.5,238 588,236.5 C586,235 584.5,235 583,236 Z" fill="none" stroke="#6a6a6a" stroke-width="0.95"/><clipPath id="pc3"><path d="M526.5,242.5 C527.2,242.3 528.3,243.9 529,245 C529.7,246.1 529.9,247.7 530.5,249 C531.1,250.3 532,251.8 532.5,253 C533,254.2 532.8,255.1 533.5,256 C534.2,256.9 536,257.5 537,258.5 C538,259.5 538.7,260.8 539.5,262 C540.3,263.2 541.5,264.7 542,266 C542.5,267.3 542.8,268.8 542.5,270 C542.2,271.2 541.4,272.6 540.5,273 C539.6,273.4 538.1,273 537,272.5 C535.9,272 534.7,271.1 534,270 C533.3,268.9 533.5,267.2 533,266 C532.5,264.8 531.7,264.1 531,263 C530.3,261.9 529.6,260.8 529,259.5 C528.4,258.2 528.1,256.6 527.5,255 C526.9,253.4 526,251.5 525.5,250 C525,248.5 524.3,247.2 524.5,246 C524.7,244.8 525.8,242.7 526.5,242.5Z"/></clipPath><path d="M526.5,242.5 C527.2,242.3 528.3,243.9 529,245 C529.7,246.1 529.9,247.7 530.5,249 C531.1,250.3 532,251.8 532.5,253 C533,254.2 532.8,255.1 533.5,256 C534.2,256.9 536,257.5 537,258.5 C538,259.5 538.7,260.8 539.5,262 C540.3,263.2 541.5,264.7 542,266 C542.5,267.3 542.8,268.8 542.5,270 C542.2,271.2 541.4,272.6 540.5,273 C539.6,273.4 538.1,273 537,272.5 C535.9,272 534.7,271.1 534,270 C533.3,268.9 533.5,267.2 533,266 C532.5,264.8 531.7,264.1 531,263 C530.3,261.9 529.6,260.8 529,259.5 C528.4,258.2 528.1,256.6 527.5,255 C526.9,253.4 526,251.5 525.5,250 C525,248.5 524.3,247.2 524.5,246 C524.7,244.8 525.8,242.7 526.5,242.5Z" fill="url(#prot)" stroke="none"/><g clip-path="url(#pc3)" fill="none"><path d="M524.6,269.8 q0.9,-2.4 3.1,-0.5 t3.8,0.7 t2.6,0.2" stroke="#808080" stroke-width="0.7"/><path d="M533.4,251 q-0.3,-0.5 2.9,0.9 t3.5,-0.9 t2.7,0.9" stroke="#e2e2e2" stroke-width="0.7"/><path d="M538.5,261.4 q0.6,0.9 2.3,-0.2 t2.6,-0.6 t3.4,-0.9" stroke="#808080" stroke-width="0.7"/><path d="M527.4,264.7 q1.6,-1 3.7,0.7 t2.3,0.8 t2.3,-0.1" stroke="#e2e2e2" stroke-width="0.7"/><path d="M525.6,245 q0.7,1.7 2.2,-0.3 t3.2,0.2 t2.3,0.4" stroke="#808080" stroke-width="0.7"/><path d="M526,271.9 q0.7,0.8 3.8,-0.5 t2.4,0.3 t3.8,0.9" stroke="#e2e2e2" stroke-width="0.7"/><path d="M539.1,261.3 q-0.6,1.4 3.3,0.8 t3.5,-0 t3.3,-0.6" stroke="#808080" stroke-width="0.7"/><path d="M529.4,266.5 q0.8,-2.4 2.4,-0.2 t3.1,-0.3 t2.7,0.9" stroke="#e2e2e2" stroke-width="0.7"/><path d="M531.3,256.2 q1.8,-0.9 3.1,-0.7 t3.7,0.6 t2.5,0.2" stroke="#808080" stroke-width="0.7"/><path d="M528.6,268.8 q-0,-1.1 3.9,-0 t3.1,0.9 t2.6,-0.1" stroke="#e2e2e2" stroke-width="0.7"/><path d="M541.2,253.4 q1.4,0.6 3.9,0.2 t3.8,-0 t2.4,-0.3" stroke="#808080" stroke-width="0.7"/><path d="M533.3,261.7 q-0.2,-0.7 2.5,0 t3.4,0.3 t2.1,-0.5" stroke="#e2e2e2" stroke-width="0.7"/><path d="M536.8,257.6 q-0.8,0.4 2.1,0 t3.9,-0.3 t2.3,0.4" stroke="#808080" stroke-width="0.7"/><path d="M535.5,252.6 q-1,-2.5 2.2,0.6 t2.8,0.7 t3.9,0.5" stroke="#e2e2e2" stroke-width="0.7"/><path d="M530.8,245.7 q1.6,-1.6 2.3,-0.2 t2.5,-0.4 t2.3,-0.9" stroke="#808080" stroke-width="0.7"/><path d="M524.5,271.7 q-1.6,-0.4 3.3,0.1 t3.7,0.9 t3.2,-0.1" stroke="#e2e2e2" stroke-width="0.7"/><path d="M536.1,253.4 q-1.3,-0.1 3,-0.5 t2.9,-0.3 t2.2,0.9" stroke="#808080" stroke-width="0.7"/><path d="M534.1,260.1 q-1.7,-1 2.1,0.8 t3.3,0 t3.4,-0.1" stroke="#e2e2e2" stroke-width="0.7"/><path d="M533.9,273.9 q-1.6,0.9 2.8,-0.6 t2.3,0.2 t2.2,0.6" stroke="#808080" stroke-width="0.7"/><path d="M531.9,251.7 q-0.3,-0.4 2.9,-0.4 t2.8,-0.5 t3.5,0.2" stroke="#e2e2e2" stroke-width="0.7"/><path d="M530.8,252.7 q-0.6,2.4 3.3,0.9 t3.8,0.4 t3.2,-0.3" stroke="#808080" stroke-width="0.7"/><path d="M535.5,245.6 q-0.1,1 3,-0 t3.3,0.2 t3.1,0.1" stroke="#e2e2e2" stroke-width="0.7"/><path d="M531.4,259.6 q-2,0.6 2.4,0.3 t2.1,0.1 t2.6,-0.1" stroke="#808080" stroke-width="0.7"/><path d="M540.1,265.3 q1.3,0.4 3.8,1 t3.7,-0.6 t2.2,-0.3" stroke="#e2e2e2" stroke-width="0.7"/><path d="M534.5,249.3 q2,0.1 3.9,-0.7 t2,0 t3.6,-0.4" stroke="#808080" stroke-width="0.7"/><path d="M542.4,245.8 q1.7,2.5 3.4,0.3 t3.3,-0.5 t2,0.3" stroke="#e2e2e2" stroke-width="0.7"/><path d="M538,253.7 q-0.5,-2.1 2.1,0.5 t2.8,0.4 t3.8,-0.9" stroke="#808080" stroke-width="0.7"/><path d="M524.4,271.5 q-1.1,-1.5 3,0.5 t3.1,0.7 t4,-0.9" stroke="#e2e2e2" stroke-width="0.7"/><path d="M536.7,250.8 q1,1.2 3.9,0 t2.5,0.6 t4,0.4" stroke="#808080" stroke-width="0.7"/><path d="M536.1,259.5 q0.7,1.1 3.3,-0.5 t3,-0 t2.5,0.3" stroke="#e2e2e2" stroke-width="0.7"/></g><path d="M526.5,242.5 C527.2,242.3 528.3,243.9 529,245 C529.7,246.1 529.9,247.7 530.5,249 C531.1,250.3 532,251.8 532.5,253 C533,254.2 532.8,255.1 533.5,256 C534.2,256.9 536,257.5 537,258.5 C538,259.5 538.7,260.8 539.5,262 C540.3,263.2 541.5,264.7 542,266 C542.5,267.3 542.8,268.8 542.5,270 C542.2,271.2 541.4,272.6 540.5,273 C539.6,273.4 538.1,273 537,272.5 C535.9,272 534.7,271.1 534,270 C533.3,268.9 533.5,267.2 533,266 C532.5,264.8 531.7,264.1 531,263 C530.3,261.9 529.6,260.8 529,259.5 C528.4,258.2 528.1,256.6 527.5,255 C526.9,253.4 526,251.5 525.5,250 C525,248.5 524.3,247.2 524.5,246 C524.7,244.8 525.8,242.7 526.5,242.5Z" fill="none" stroke="#6a6a6a" stroke-width="0.95"/><clipPath id="pc4"><path d="M552,259 C554,253 562,251.5 570,253 C578,255 583,261 582.5,268 C582,272 583,275 582,278 C578,280 572,280 566,279.5 C558,279 551,274 550,267 C549.5,264 550.5,261.5 552,259 Z"/></clipPath><path d="M552,259 C554,253 562,251.5 570,253 C578,255 583,261 582.5,268 C582,272 583,275 582,278 C578,280 572,280 566,279.5 C558,279 551,274 550,267 C549.5,264 550.5,261.5 552,259 Z" fill="url(#prot)" stroke="none"/><g clip-path="url(#pc4)" fill="none"><path d="M557.4,253.9 q0.7,-1.3 3.2,-0.7 t4,0.3 t2.6,-0.9" stroke="#808080" stroke-width="0.7"/><path d="M578.3,277.9 q-0.6,-2 4,0.8 t2.9,-0.8 t3.5,0.9" stroke="#e2e2e2" stroke-width="0.7"/><path d="M559.6,262.1 q1.5,1.2 3.8,0.2 t2.5,0.9 t3.6,0.7" stroke="#808080" stroke-width="0.7"/><path d="M560.7,260.1 q1.9,2.1 2.2,-0.8 t2.3,0.3 t2.5,-0.7" stroke="#e2e2e2" stroke-width="0.7"/><path d="M567.2,279.9 q-0.1,-2.1 2.3,-0.4 t2.7,-0.6 t2.2,-0.3" stroke="#808080" stroke-width="0.7"/><path d="M556.6,257.2 q-1.7,0.3 3.5,-0.3 t2.2,-0.2 t2.2,-0.7" stroke="#e2e2e2" stroke-width="0.7"/><path d="M558.2,278.1 q-1.8,-0.1 2,-0.3 t4,0.7 t2.9,-0.5" stroke="#808080" stroke-width="0.7"/><path d="M558.2,267.3 q-0.2,-1.2 2.1,0.6 t4,0.9 t3,-0.2" stroke="#e2e2e2" stroke-width="0.7"/><path d="M553.1,280.7 q-0.2,-2.2 3.9,0.3 t3.5,0.1 t2.4,0.6" stroke="#808080" stroke-width="0.7"/><path d="M575.1,266.3 q1.8,-1.6 3.9,0.2 t2.2,0.7 t3.7,0.6" stroke="#e2e2e2" stroke-width="0.7"/><path d="M564.4,269.1 q0.4,1.1 2.8,-0.8 t2.7,-0.3 t2.1,-0.6" stroke="#808080" stroke-width="0.7"/><path d="M572.4,266.5 q-1.2,1.7 2.1,-1 t3.3,0.8 t3.7,0.3" stroke="#e2e2e2" stroke-width="0.7"/><path d="M564.8,258.7 q1.8,0.8 2.4,0.8 t3.5,0.9 t2.8,-0.1" stroke="#808080" stroke-width="0.7"/><path d="M569.2,259.9 q-0.8,2.1 3.6,0.8 t3.5,0.3 t2.1,0.6" stroke="#e2e2e2" stroke-width="0.7"/><path d="M556,269.9 q0.6,-1.5 3.4,-0.8 t2.2,0.5 t2.6,0" stroke="#808080" stroke-width="0.7"/><path d="M571.3,267.1 q1.4,1.6 2.5,-0.8 t3,0.9 t2.5,0.6" stroke="#e2e2e2" stroke-width="0.7"/><path d="M564.9,279.6 q-1.8,-1.5 3.5,1 t3.9,0.7 t2.6,0.1" stroke="#808080" stroke-width="0.7"/><path d="M549.1,264.9 q-0,-2 2.4,0.7 t3.1,0.3 t3.7,0.9" stroke="#e2e2e2" stroke-width="0.7"/><path d="M582.3,258.1 q0.4,-2.1 2.5,-0.2 t2.1,-0.8 t3.3,0.6" stroke="#808080" stroke-width="0.7"/><path d="M562.2,255.8 q0.6,-1.8 3.8,-1 t2.4,0.8 t3.4,-0.4" stroke="#e2e2e2" stroke-width="0.7"/><path d="M551.5,270.4 q-0.1,-2.2 3.8,-0.8 t3.5,-0 t3.3,-0.8" stroke="#808080" stroke-width="0.7"/><path d="M579.2,280.5 q-2,-0.7 3.3,0.1 t3.7,0.1 t2.7,1" stroke="#e2e2e2" stroke-width="0.7"/><path d="M559.7,269.7 q-0.7,-2.4 3.1,-0.2 t2,0.7 t3.3,0.5" stroke="#808080" stroke-width="0.7"/><path d="M566.5,269.5 q-1,-0 3.2,-0 t3,-0.2 t2.4,-0.6" stroke="#e2e2e2" stroke-width="0.7"/><path d="M558.6,280.3 q-1.3,-0.8 2.1,-0.3 t3.4,-0.5 t3.9,-0.2" stroke="#808080" stroke-width="0.7"/><path d="M553.4,276.9 q-0.7,-0.2 3.7,-0.4 t3.6,-0.9 t2.9,-0.5" stroke="#e2e2e2" stroke-width="0.7"/><path d="M581.1,261.3 q1.1,1.1 2.3,0.8 t3.5,-0.3 t2.1,0.9" stroke="#808080" stroke-width="0.7"/><path d="M567.4,252.2 q-0.5,-1.4 2.5,0.3 t3.2,0.2 t3.7,-0.7" stroke="#e2e2e2" stroke-width="0.7"/><path d="M574.4,265.9 q-0.3,1.7 3.4,-0.2 t2.1,0.6 t3.5,0.7" stroke="#808080" stroke-width="0.7"/><path d="M581.1,278.2 q-0.2,0.3 3.3,0.2 t3.5,-0.8 t3.1,-0.2" stroke="#e2e2e2" stroke-width="0.7"/><path d="M562.6,260.6 q-1.2,2.1 3.2,1 t2.8,0.4 t3.2,0.2" stroke="#808080" stroke-width="0.7"/><path d="M567.4,251.2 q-0.8,1.6 3.6,-0.8 t2.2,0 t3.7,-0.6" stroke="#e2e2e2" stroke-width="0.7"/><path d="M557.7,275.2 q0.6,-2.3 2.5,-0.8 t3.3,-0.8 t3.1,-0.7" stroke="#808080" stroke-width="0.7"/><path d="M556.1,255.2 q0.4,0.6 2.1,-0.1 t2.7,-0 t2.4,-0.2" stroke="#e2e2e2" stroke-width="0.7"/><path d="M580.6,273.2 q0.7,-1.1 3.2,-0.9 t3.6,-0.5 t2.5,-0.7" stroke="#808080" stroke-width="0.7"/><path d="M566.3,279.4 q-1.9,0.4 3.3,-0.5 t3.1,-0.9 t2.5,0.5" stroke="#e2e2e2" stroke-width="0.7"/><path d="M564.3,280.8 q1,-1.8 2.2,-0.7 t3.8,-0.4 t2,0.9" stroke="#808080" stroke-width="0.7"/><path d="M580.9,269.8 q0.8,-2 2.6,-0.7 t2.1,-0.6 t2.7,0.3" stroke="#e2e2e2" stroke-width="0.7"/><path d="M573.1,266.4 q-0.9,-1 2.6,-0.4 t2.9,-0.2 t3.1,0.5" stroke="#808080" stroke-width="0.7"/><path d="M553.3,254.2 q-1.1,0.2 2.3,0.7 t3.5,0.9 t3.1,-0.1" stroke="#e2e2e2" stroke-width="0.7"/><path d="M580.2,279.5 q-1.3,-0.8 2,-0.6 t3.6,-0.1 t3.3,0.1" stroke="#808080" stroke-width="0.7"/><path d="M561.5,270.2 q0.4,-2.2 3.8,-0.5 t4,0.3 t2.6,-0.3" stroke="#e2e2e2" stroke-width="0.7"/><path d="M563.2,279.9 q-0.1,-0.9 2.2,0.6 t2,-0.8 t2.5,-0.2" stroke="#808080" stroke-width="0.7"/><path d="M574,268.1 q-0.8,2.1 3.4,-0.5 t3.6,0.7 t3.3,0.6" stroke="#e2e2e2" stroke-width="0.7"/><path d="M566.4,258.8 q1.1,1.7 2,-0.2 t3.1,0.7 t3.8,0" stroke="#808080" stroke-width="0.7"/><path d="M558.7,268.8 q-0.7,1.6 2.2,-0.1 t2.8,-0.2 t4,0.7" stroke="#e2e2e2" stroke-width="0.7"/><path d="M568.7,271 q0.4,2.3 2.4,0.9 t2.6,0.6 t3.9,-0.5" stroke="#808080" stroke-width="0.7"/><path d="M569.3,258.7 q-1.7,0.7 3.6,-0.1 t3.6,-0.4 t2.3,0.3" stroke="#e2e2e2" stroke-width="0.7"/><path d="M552.9,256.2 q-1.7,2.5 3.2,-0.2 t3.9,0.3 t2.6,-0.8" stroke="#808080" stroke-width="0.7"/><path d="M556.1,260.8 q-1,2.2 2.5,0.6 t2.9,0 t2.4,-0.5" stroke="#e2e2e2" stroke-width="0.7"/><path d="M551.2,276.3 q0.9,0.2 3.9,-0.7 t3.5,1 t3.3,-0.5" stroke="#808080" stroke-width="0.7"/><path d="M552.9,278.7 q-1.7,1.3 2,0.6 t3.7,0.5 t3.9,0.2" stroke="#e2e2e2" stroke-width="0.7"/></g><path d="M552,259 C554,253 562,251.5 570,253 C578,255 583,261 582.5,268 C582,272 583,275 582,278 C578,280 572,280 566,279.5 C558,279 551,274 550,267 C549.5,264 550.5,261.5 552,259 Z" fill="none" stroke="#6a6a6a" stroke-width="0.95"/><circle cx="563" cy="264.5" r="1.9" fill="#f6f6f6" stroke="#777" stroke-width="0.6"/><clipPath id="pc5"><path d="M596,265 C601,260 610,259.5 617,262 C623,265 625,272 623,278 C621,284 614,287 606,286.5 C600,286 595,283.5 593.5,280 C592.5,278 593,276 594.5,273.5 C594,270 594,267.5 596,265 Z"/></clipPath><path d="M596,265 C601,260 610,259.5 617,262 C623,265 625,272 623,278 C621,284 614,287 606,286.5 C600,286 595,283.5 593.5,280 C592.5,278 593,276 594.5,273.5 C594,270 594,267.5 596,265 Z" fill="url(#prot)" stroke="none"/><g clip-path="url(#pc5)" fill="none"><path d="M621.6,264.7 q-1.5,-1.9 3.5,0.7 t4,0.4 t3.3,0.4" stroke="#808080" stroke-width="0.7"/><path d="M607.9,274.9 q-1.4,-2.3 3.7,0.6 t3.9,0.5 t3.2,-0.7" stroke="#e2e2e2" stroke-width="0.7"/><path d="M620.7,274.3 q1.5,1.4 3.6,0.3 t3.6,-0.1 t3.4,0.1" stroke="#808080" stroke-width="0.7"/><path d="M612.1,287.2 q1.6,1.1 3.2,-0.5 t3.7,-0.2 t2.7,0.7" stroke="#e2e2e2" stroke-width="0.7"/><path d="M607.8,279.2 q-1.3,1.3 3.9,0.2 t3.7,0.1 t3.4,-0.1" stroke="#808080" stroke-width="0.7"/><path d="M602.3,286.1 q0.6,2.1 2.7,-0.5 t3.1,0.2 t2.1,-0.8" stroke="#e2e2e2" stroke-width="0.7"/><path d="M611.9,259.7 q-1.5,2.2 3.9,0.8 t2.6,0.9 t2.8,0.6" stroke="#808080" stroke-width="0.7"/><path d="M601.8,286.4 q-1.3,-2.2 2.4,0.2 t2.1,0.3 t3.6,0.6" stroke="#e2e2e2" stroke-width="0.7"/><path d="M619.6,278.8 q0,0.1 2.5,0.1 t3.2,-0 t3.8,0.6" stroke="#808080" stroke-width="0.7"/><path d="M602.1,284.9 q-0.7,0.1 2.2,0.4 t2.1,-0.7 t3.7,0.8" stroke="#e2e2e2" stroke-width="0.7"/><path d="M609.3,282.2 q-0,-2.3 2.3,0.2 t3.6,-0 t3.9,0.8" stroke="#808080" stroke-width="0.7"/><path d="M592.9,261.6 q0.7,2.2 3.2,0.5 t3.2,0.3 t2.2,0.7" stroke="#e2e2e2" stroke-width="0.7"/><path d="M619.1,283.8 q1.9,1.2 2.2,0.2 t2,0.5 t3.9,-0.5" stroke="#808080" stroke-width="0.7"/><path d="M595.9,282.8 q1.6,-1.3 3.6,0.5 t2.2,0.2 t3.9,-0.3" stroke="#e2e2e2" stroke-width="0.7"/><path d="M592.3,259.3 q0.5,2.3 2.4,0.3 t3,-0.1 t3.3,-0.2" stroke="#808080" stroke-width="0.7"/><path d="M603.1,272.1 q1,0.5 2.6,-0.3 t2.2,0.7 t2.9,-0.7" stroke="#e2e2e2" stroke-width="0.7"/><path d="M622.9,276.9 q1.3,-0.5 2.5,-0.5 t3.3,0.9 t2.6,-0" stroke="#808080" stroke-width="0.7"/><path d="M608,276.5 q1.3,0.7 2,0.4 t2.9,0.8 t3.6,0.5" stroke="#e2e2e2" stroke-width="0.7"/><path d="M624.7,284 q-1,2.3 3.2,0.1 t2.7,0.7 t3.2,0.2" stroke="#808080" stroke-width="0.7"/><path d="M609.9,286.5 q0.2,0.8 2,-1 t2.7,0.6 t3.6,0" stroke="#e2e2e2" stroke-width="0.7"/><path d="M602.8,276.7 q1.8,-0.9 3.4,-0.9 t3,-0.6 t4,0.1" stroke="#808080" stroke-width="0.7"/><path d="M617.1,285.3 q0.1,0.3 3.1,0.5 t3.7,0.1 t3,-0.5" stroke="#e2e2e2" stroke-width="0.7"/><path d="M617.6,286.4 q1,-1.4 4,0.1 t3.8,-0.7 t3.1,-0.7" stroke="#808080" stroke-width="0.7"/><path d="M610.5,262.4 q1.2,-0 3.7,-0.4 t3.1,-0.6 t2.4,-0.5" stroke="#e2e2e2" stroke-width="0.7"/><path d="M610.9,260.6 q1.6,0.4 3.2,-0.2 t3.9,0.3 t2.5,-0.2" stroke="#808080" stroke-width="0.7"/><path d="M596,274.4 q-1.9,-1.2 3.3,-0.2 t2.6,0.4 t2.6,-0.8" stroke="#e2e2e2" stroke-width="0.7"/><path d="M615.7,279.8 q-1.3,-1.8 3.8,0.1 t2,-0.7 t3.6,-0.9" stroke="#808080" stroke-width="0.7"/><path d="M597.3,281.6 q-0.2,-1.7 2.3,-1 t2.2,0 t2.7,-1" stroke="#e2e2e2" stroke-width="0.7"/><path d="M611.8,282.9 q-1.3,1.3 3.6,-0.8 t3.5,-0.3 t4,-0.1" stroke="#808080" stroke-width="0.7"/><path d="M614.5,281.5 q-1.8,0.8 2.1,-0.4 t3.1,-0.8 t3.6,-0.9" stroke="#e2e2e2" stroke-width="0.7"/><path d="M605.5,260.6 q0.9,1.8 3,-0.7 t3.8,0.9 t3.3,0.7" stroke="#808080" stroke-width="0.7"/><path d="M614.9,285.3 q1.8,-0.8 3,0.2 t3.7,-0.8 t3,0.2" stroke="#e2e2e2" stroke-width="0.7"/><path d="M602.9,268.1 q0.7,2.4 3.6,0.9 t3.7,0 t3.5,-0.6" stroke="#808080" stroke-width="0.7"/><path d="M597.8,267.1 q-1.2,-2.4 2.6,-0.2 t3.2,-0 t3,0.3" stroke="#e2e2e2" stroke-width="0.7"/><path d="M602.9,272.8 q0.8,0.4 3,0.4 t2.6,0.9 t2.9,-0.3" stroke="#808080" stroke-width="0.7"/><path d="M611.1,275.1 q1.8,-1.7 3.5,-0.5 t2.1,0 t3.1,-0.6" stroke="#e2e2e2" stroke-width="0.7"/><path d="M622.8,282.8 q-2,2.5 2.9,0.9 t2.9,0.8 t2.7,-0.7" stroke="#808080" stroke-width="0.7"/><path d="M599.6,278 q-0,-0.1 3.7,-0.7 t3.1,-0.4 t2.2,-0.3" stroke="#e2e2e2" stroke-width="0.7"/><path d="M598.5,280.2 q1.3,1.7 3.5,0.4 t3.6,0.2 t2.4,-0.4" stroke="#808080" stroke-width="0.7"/><path d="M610.8,274.5 q-1.2,2 3.1,0.1 t3.3,-0.5 t2.5,0.8" stroke="#e2e2e2" stroke-width="0.7"/><path d="M613.9,271.4 q1.1,2 2.9,0.8 t3.2,-0.4 t3.3,-0.4" stroke="#808080" stroke-width="0.7"/><path d="M603.9,281.9 q0.5,1 3.9,-1 t3.9,0.5 t2.6,-0.7" stroke="#e2e2e2" stroke-width="0.7"/><path d="M596.1,275.9 q1.2,-0.8 3.3,0.2 t3.4,0.7 t3.8,-0.4" stroke="#808080" stroke-width="0.7"/><path d="M605.1,284.9 q1.2,1.9 2.3,-0.5 t2.4,0.7 t2.6,0.2" stroke="#e2e2e2" stroke-width="0.7"/><path d="M624.2,278.7 q-0.5,-0.2 2.9,-0.7 t3.5,0.4 t2.2,0.5" stroke="#808080" stroke-width="0.7"/><path d="M594.4,280.7 q-1.6,1.1 2.3,0.8 t3.1,0.9 t2.7,-0.1" stroke="#e2e2e2" stroke-width="0.7"/><path d="M610,281.3 q-1.3,1.1 3.5,-0.5 t2.7,0.2 t3.4,0.8" stroke="#808080" stroke-width="0.7"/></g><path d="M596,265 C601,260 610,259.5 617,262 C623,265 625,272 623,278 C621,284 614,287 606,286.5 C600,286 595,283.5 593.5,280 C592.5,278 593,276 594.5,273.5 C594,270 594,267.5 596,265 Z" fill="none" stroke="#6a6a6a" stroke-width="0.95"/><circle cx="610.5" cy="271.8" r="1.9" fill="#f6f6f6" stroke="#777" stroke-width="0.6"/><clipPath id="pc6"><path d="M586.5,285.5 C590,287.5 595,292 596.5,299 C598,306 596,313 590,316.5 C584,319 577,317 573.5,311 C570.5,305 571.5,297 576,291.5 C579,288 583,286.5 586.5,285.5 Z"/></clipPath><path d="M586.5,285.5 C590,287.5 595,292 596.5,299 C598,306 596,313 590,316.5 C584,319 577,317 573.5,311 C570.5,305 571.5,297 576,291.5 C579,288 583,286.5 586.5,285.5 Z" fill="url(#prot)" stroke="none"/><g clip-path="url(#pc6)" fill="none"><path d="M593,304.8 q0.9,-2.5 3.3,0.5 t3,-0 t2.5,-0.2" stroke="#808080" stroke-width="0.7"/><path d="M586.3,313.6 q0.3,-0.2 2.6,0.5 t2.6,-0.9 t3.1,0" stroke="#e2e2e2" stroke-width="0.7"/><path d="M593.2,299.5 q0.7,-0.7 3,-0.8 t2.9,-0.6 t2.8,-0.5" stroke="#808080" stroke-width="0.7"/><path d="M589.8,297.4 q-0.4,-0.4 3.3,-0.2 t3.5,0.4 t2.7,0.1" stroke="#e2e2e2" stroke-width="0.7"/><path d="M587.7,285.7 q-0.4,-1.1 2.7,-0.2 t3.9,0.5 t2.6,-0.9" stroke="#808080" stroke-width="0.7"/><path d="M590.8,297.6 q-1.8,-1 2.3,1 t2.5,-0 t2.1,0.7" stroke="#e2e2e2" stroke-width="0.7"/><path d="M584.1,285.6 q0.4,1.8 2.9,0.1 t3.9,-0.2 t3.1,0.8" stroke="#808080" stroke-width="0.7"/><path d="M588.7,301.9 q-0.7,0.6 3.5,0.5 t2.4,-0.4 t3.1,-0.8" stroke="#e2e2e2" stroke-width="0.7"/><path d="M591.6,293.8 q-0.8,-1.1 2.4,0.7 t2.7,-0.8 t3.6,0.6" stroke="#808080" stroke-width="0.7"/><path d="M571.7,289.5 q-1.8,0 3.3,-0.5 t3.6,-0.7 t2.7,-0.2" stroke="#e2e2e2" stroke-width="0.7"/><path d="M581.9,303.2 q0.2,-1.6 2.1,-0.2 t2.7,-0.1 t2.1,0.7" stroke="#808080" stroke-width="0.7"/><path d="M572.6,289.1 q-0.2,0.4 2.2,0.7 t3,0.4 t2.9,-0.1" stroke="#e2e2e2" stroke-width="0.7"/><path d="M581.2,297.7 q-0.3,0.7 3.4,0.1 t2.3,-0.6 t3,-0.5" stroke="#808080" stroke-width="0.7"/><path d="M580.3,309.9 q1.7,-2 2.5,-0.1 t2.3,0.6 t4,0.5" stroke="#e2e2e2" stroke-width="0.7"/><path d="M592.7,294.3 q-1.1,-2.1 2.9,-0.2 t2.2,0.4 t2.7,0.3" stroke="#808080" stroke-width="0.7"/><path d="M594.8,288.3 q0,1.4 3.4,-0.3 t2.9,-0.6 t2.4,-0.5" stroke="#e2e2e2" stroke-width="0.7"/><path d="M571.3,305.5 q-1.9,0.3 3.4,0.7 t3.5,-0.1 t2.9,0.4" stroke="#808080" stroke-width="0.7"/><path d="M583,293.9 q-1.7,-1.7 2.6,0.2 t2.5,-0.6 t3,-0.9" stroke="#e2e2e2" stroke-width="0.7"/><path d="M578.9,316.5 q-1.2,-0.1 2.6,-0.5 t2.1,-1 t2,-0.2" stroke="#808080" stroke-width="0.7"/><path d="M582.4,303.6 q-0.4,0 3.4,0.2 t3.3,-0.8 t3.7,0.1" stroke="#e2e2e2" stroke-width="0.7"/><path d="M594.1,310 q-1.5,1.4 2.1,0.6 t3.6,-0.9 t3.3,-0.7" stroke="#808080" stroke-width="0.7"/><path d="M592.2,307.3 q1.7,-1.3 2.7,-0.1 t2,-0.1 t2.7,-0.3" stroke="#e2e2e2" stroke-width="0.7"/><path d="M574.6,294.7 q1.3,-0.6 2.7,-0.5 t3.6,0.3 t2.2,-0.7" stroke="#808080" stroke-width="0.7"/><path d="M571.4,287.2 q1.8,-2 3,0 t2.6,-0.5 t2.4,-0.6" stroke="#e2e2e2" stroke-width="0.7"/><path d="M578.1,306.6 q0.8,-1.2 2.6,-0.7 t2.4,-0.2 t3.2,-1" stroke="#808080" stroke-width="0.7"/><path d="M572,289.9 q1,1.6 2.7,0.5 t2.1,0.4 t2.2,-1" stroke="#e2e2e2" stroke-width="0.7"/><path d="M574.3,308.7 q1.7,-2.1 3.5,-0.9 t2.3,-0.4 t3.8,0.3" stroke="#808080" stroke-width="0.7"/><path d="M591.9,297.2 q0.5,-2 3.6,-1 t2.3,-0.5 t2,-0.6" stroke="#e2e2e2" stroke-width="0.7"/><path d="M581.5,301.7 q1.5,1.5 2.6,-0.9 t3.8,0.6 t2.9,-0.1" stroke="#808080" stroke-width="0.7"/><path d="M582.4,298.5 q-1.6,-1.8 2.5,0.6 t2.4,0.9 t2.7,-0.5" stroke="#e2e2e2" stroke-width="0.7"/><path d="M588.9,294 q-0,0.7 3.7,-0.5 t3.6,0.9 t3.2,1" stroke="#808080" stroke-width="0.7"/><path d="M597.4,298.6 q1.8,0.1 2.1,0.1 t2.7,0.8 t2.5,-0.1" stroke="#e2e2e2" stroke-width="0.7"/><path d="M572.8,297.4 q0.2,-1.6 2,-0.2 t3.8,-0.9 t2.6,-0.1" stroke="#808080" stroke-width="0.7"/><path d="M591.3,309.9 q1.4,-0.5 3,0.7 t3.7,0.2 t3,-0.1" stroke="#e2e2e2" stroke-width="0.7"/><path d="M596.8,315.3 q1.9,-0.1 2.4,0.8 t2.6,-0.7 t2.2,0.8" stroke="#808080" stroke-width="0.7"/><path d="M587.6,300.8 q1,2.2 2.8,0.6 t3.5,-0.9 t3.4,-0.9" stroke="#e2e2e2" stroke-width="0.7"/><path d="M592.3,292 q1.7,-1.7 3,-1 t2.6,0 t2.3,0.3" stroke="#808080" stroke-width="0.7"/><path d="M593.6,315 q0.8,-1.2 2.5,0.4 t3.4,-0 t2.5,-0.5" stroke="#e2e2e2" stroke-width="0.7"/><path d="M582.3,299.2 q-0.4,-0.1 3,-0.4 t3,0.8 t2.3,-0.6" stroke="#808080" stroke-width="0.7"/><path d="M578,310.7 q-0.6,-2.4 3.8,0.3 t2.2,0.2 t2.8,-0.1" stroke="#e2e2e2" stroke-width="0.7"/><path d="M571.8,308.8 q0.9,2.1 2.1,-0.8 t2.8,-0.5 t2.8,-0.7" stroke="#808080" stroke-width="0.7"/><path d="M592.1,314.4 q1.3,2.4 3.6,-1 t2.3,0.8 t3.5,-0.4" stroke="#e2e2e2" stroke-width="0.7"/><path d="M586.1,316 q-0.8,-1.9 3.6,-0.2 t2.4,0.8 t3.8,-0.9" stroke="#808080" stroke-width="0.7"/><path d="M591.8,299.9 q-1.3,-1.5 2.3,0.1 t3,0.5 t2,-0.7" stroke="#e2e2e2" stroke-width="0.7"/><path d="M570,314.1 q-1.7,0.4 3.3,0.2 t2.9,0 t2.2,-0.2" stroke="#808080" stroke-width="0.7"/><path d="M593.4,300.6 q-1.5,-2 3.3,-0.3 t4,-0.6 t2.5,0.6" stroke="#e2e2e2" stroke-width="0.7"/></g><path d="M586.5,285.5 C590,287.5 595,292 596.5,299 C598,306 596,313 590,316.5 C584,319 577,317 573.5,311 C570.5,305 571.5,297 576,291.5 C579,288 583,286.5 586.5,285.5 Z" fill="none" stroke="#6a6a6a" stroke-width="0.95"/><circle cx="584.5" cy="303" r="1.9" fill="#f6f6f6" stroke="#777" stroke-width="0.6"/><clipPath id="pc7"><path d="M555,313 L567,326 L562.5,330.5 L551,317 Z"/></clipPath><path d="M555,313 L567,326 L562.5,330.5 L551,317 Z" fill="url(#prot)" stroke="none"/><g clip-path="url(#pc7)" fill="none"><path d="M554.8,316 q-0.4,-1.7 2.8,-0.8 t3.1,0.1 t2.7,0.6" stroke="#808080" stroke-width="0.7"/><path d="M551.5,330.6 q-0.3,-1.7 2.8,-0.2 t2,0.4 t3.3,0.2" stroke="#e2e2e2" stroke-width="0.7"/><path d="M561.2,329.3 q-0.1,0.3 3.9,0.8 t2.3,-0.8 t3.8,0.2" stroke="#808080" stroke-width="0.7"/><path d="M551.3,316.8 q-0.7,-0.5 2.5,-0.4 t3.1,0.8 t3.4,0.9" stroke="#e2e2e2" stroke-width="0.7"/><path d="M551.1,318.1 q1.6,0.5 2.7,-0.5 t3.7,1 t3.3,0.5" stroke="#808080" stroke-width="0.7"/><path d="M562.8,326.5 q-0.2,1.6 3.3,0.8 t3.8,-0.4 t3,-0.2" stroke="#e2e2e2" stroke-width="0.7"/><path d="M552.8,318.3 q1.9,-0.6 2.2,-0.1 t3.3,0.6 t2.7,0.3" stroke="#808080" stroke-width="0.7"/><path d="M555.2,330.7 q-0.2,1.5 3.8,0.4 t2.9,0.4 t3.1,0.4" stroke="#e2e2e2" stroke-width="0.7"/><path d="M566.4,319.6 q-0.7,-1.1 2.9,0.7 t2.7,0 t4,-0.5" stroke="#808080" stroke-width="0.7"/><path d="M552.7,314 q1,-2.1 2.7,0.3 t3,0.1 t3.2,-1" stroke="#e2e2e2" stroke-width="0.7"/><path d="M560.8,324.8 q1.9,-0.2 3.1,-0.9 t2.8,-0.9 t3.1,-0.7" stroke="#808080" stroke-width="0.7"/><path d="M563.2,316.7 q-1.4,-0.7 3.6,-0.2 t3.9,0.4 t2.4,0.5" stroke="#e2e2e2" stroke-width="0.7"/><path d="M553.2,326.3 q0.1,0.5 3.8,0.1 t2.8,-0.4 t3.2,0.5" stroke="#808080" stroke-width="0.7"/><path d="M558.7,324 q0.9,0.1 2.2,0.2 t2.1,-0.3 t3.1,-0.2" stroke="#e2e2e2" stroke-width="0.7"/></g><path d="M555,313 L567,326 L562.5,330.5 L551,317 Z" fill="none" stroke="#6a6a6a" stroke-width="0.95"/><clipPath id="pc8"><path d="M564.7,304 C565.3,304.6 564.7,305.4 564.6,306.1 C564.5,306.8 564.9,307.7 564.1,308.2 C563.4,308.7 561.1,308.5 560.3,308.9 C559.6,309.3 559.9,309.9 559.6,310.4 C559.3,310.9 558.6,310.9 558.7,311.8 C558.7,312.6 560,314.6 560,315.5 C559.9,316.3 558.9,316.4 558.4,316.9 C557.8,317.3 557.4,318.2 556.6,318 C555.8,317.9 554.2,316.1 553.4,315.8 C552.6,315.5 552.4,316.2 551.8,316.4 C551.3,316.5 550.7,316.1 550.2,316.7 C549.6,317.3 549.1,319.6 548.5,320.2 C547.9,320.8 547.1,320.2 546.4,320.1 C545.7,320 544.8,320.4 544.3,319.6 C543.8,318.9 544,316.6 543.6,315.8 C543.2,315.1 542.6,315.4 542.1,315.1 C541.6,314.8 541.6,314.1 540.7,314.2 C539.9,314.2 537.9,315.5 537,315.5 C536.2,315.4 536.1,314.4 535.6,313.9 C535.2,313.3 534.3,312.9 534.5,312.1 C534.6,311.3 536.4,309.7 536.7,308.9 C537,308.1 536.3,307.9 536.1,307.3 C536,306.8 536.4,306.2 535.8,305.7 C535.2,305.1 532.9,304.6 532.3,304 C531.7,303.4 532.3,302.6 532.4,301.9 C532.5,301.2 532.1,300.3 532.9,299.8 C533.6,299.3 535.9,299.5 536.7,299.1 C537.4,298.7 537.1,298.1 537.4,297.6 C537.7,297.1 538.4,297.1 538.3,296.2 C538.3,295.4 537,293.4 537,292.5 C537.1,291.7 538.1,291.6 538.6,291.1 C539.2,290.7 539.6,289.8 540.4,290 C541.2,290.1 542.8,291.9 543.6,292.2 C544.4,292.5 544.6,291.8 545.2,291.6 C545.7,291.5 546.3,291.9 546.8,291.3 C547.4,290.7 547.9,288.4 548.5,287.8 C549.1,287.2 549.9,287.8 550.6,287.9 C551.3,288 552.2,287.6 552.7,288.4 C553.2,289.1 553,291.4 553.4,292.2 C553.8,292.9 554.4,292.6 554.9,292.9 C555.4,293.2 555.4,293.9 556.3,293.8 C557.1,293.8 559.1,292.5 560,292.5 C560.8,292.6 560.9,293.6 561.4,294.1 C561.8,294.7 562.7,295.1 562.5,295.9 C562.4,296.7 560.6,298.3 560.3,299.1 C560,299.9 560.7,300.1 560.9,300.7 C561,301.2 560.6,301.8 561.2,302.3 C561.8,302.9 564.1,303.4 564.7,304Z"/></clipPath><path d="M564.7,304 C565.3,304.6 564.7,305.4 564.6,306.1 C564.5,306.8 564.9,307.7 564.1,308.2 C563.4,308.7 561.1,308.5 560.3,308.9 C559.6,309.3 559.9,309.9 559.6,310.4 C559.3,310.9 558.6,310.9 558.7,311.8 C558.7,312.6 560,314.6 560,315.5 C559.9,316.3 558.9,316.4 558.4,316.9 C557.8,317.3 557.4,318.2 556.6,318 C555.8,317.9 554.2,316.1 553.4,315.8 C552.6,315.5 552.4,316.2 551.8,316.4 C551.3,316.5 550.7,316.1 550.2,316.7 C549.6,317.3 549.1,319.6 548.5,320.2 C547.9,320.8 547.1,320.2 546.4,320.1 C545.7,320 544.8,320.4 544.3,319.6 C543.8,318.9 544,316.6 543.6,315.8 C543.2,315.1 542.6,315.4 542.1,315.1 C541.6,314.8 541.6,314.1 540.7,314.2 C539.9,314.2 537.9,315.5 537,315.5 C536.2,315.4 536.1,314.4 535.6,313.9 C535.2,313.3 534.3,312.9 534.5,312.1 C534.6,311.3 536.4,309.7 536.7,308.9 C537,308.1 536.3,307.9 536.1,307.3 C536,306.8 536.4,306.2 535.8,305.7 C535.2,305.1 532.9,304.6 532.3,304 C531.7,303.4 532.3,302.6 532.4,301.9 C532.5,301.2 532.1,300.3 532.9,299.8 C533.6,299.3 535.9,299.5 536.7,299.1 C537.4,298.7 537.1,298.1 537.4,297.6 C537.7,297.1 538.4,297.1 538.3,296.2 C538.3,295.4 537,293.4 537,292.5 C537.1,291.7 538.1,291.6 538.6,291.1 C539.2,290.7 539.6,289.8 540.4,290 C541.2,290.1 542.8,291.9 543.6,292.2 C544.4,292.5 544.6,291.8 545.2,291.6 C545.7,291.5 546.3,291.9 546.8,291.3 C547.4,290.7 547.9,288.4 548.5,287.8 C549.1,287.2 549.9,287.8 550.6,287.9 C551.3,288 552.2,287.6 552.7,288.4 C553.2,289.1 553,291.4 553.4,292.2 C553.8,292.9 554.4,292.6 554.9,292.9 C555.4,293.2 555.4,293.9 556.3,293.8 C557.1,293.8 559.1,292.5 560,292.5 C560.8,292.6 560.9,293.6 561.4,294.1 C561.8,294.7 562.7,295.1 562.5,295.9 C562.4,296.7 560.6,298.3 560.3,299.1 C560,299.9 560.7,300.1 560.9,300.7 C561,301.2 560.6,301.8 561.2,302.3 C561.8,302.9 564.1,303.4 564.7,304Z" fill="url(#prot)" stroke="none"/><g clip-path="url(#pc8)" fill="none"><path d="M555.5,293.8 q-1.6,-0.7 3.5,-0.4 t3.8,0.2 t3,0.2" stroke="#808080" stroke-width="0.7"/><path d="M550.8,304.5 q1.3,0.9 3,-1 t2.4,-0.7 t3.8,0.9" stroke="#e2e2e2" stroke-width="0.7"/><path d="M544.4,312.2 q-1.7,1.7 2.1,0.6 t3.3,0.8 t3.5,-0.1" stroke="#808080" stroke-width="0.7"/><path d="M534.8,294.1 q1.4,0.8 2,0.5 t2.2,-1 t3.8,0.8" stroke="#e2e2e2" stroke-width="0.7"/><path d="M543.9,313.5 q-1.1,-1.6 3.6,-0.4 t2.2,0.7 t3,0.5" stroke="#808080" stroke-width="0.7"/><path d="M560.5,308.8 q-1.5,-1.6 3.7,0 t2.4,0.5 t3.7,-0.7" stroke="#e2e2e2" stroke-width="0.7"/><path d="M551,318.6 q-1.5,1.3 2.8,0.5 t2.2,0.1 t2.4,-0.8" stroke="#808080" stroke-width="0.7"/><path d="M559.3,289.9 q-1.6,1.8 2.3,0.9 t2.9,0.3 t3.3,-0.4" stroke="#e2e2e2" stroke-width="0.7"/><path d="M543.6,298.7 q-1.3,-0.6 3.4,-0.9 t2,-0.4 t2.9,-0.7" stroke="#808080" stroke-width="0.7"/><path d="M533.8,288.3 q1.1,0.7 2.1,-0.7 t2.4,0.4 t2.8,-0.9" stroke="#e2e2e2" stroke-width="0.7"/><path d="M548.3,319.3 q0.2,2.4 2.8,0.3 t3.2,0.2 t3.7,-0.3" stroke="#808080" stroke-width="0.7"/><path d="M535.7,304.9 q0.1,-0.5 3.8,-1 t3.4,0.4 t2.8,0.3" stroke="#e2e2e2" stroke-width="0.7"/><path d="M560.5,309 q1.5,-1.1 2.3,0.2 t2.1,0.5 t2.6,-0.1" stroke="#808080" stroke-width="0.7"/><path d="M553.1,289 q-1.6,1.2 2.3,0.3 t2.3,0.8 t3.2,0.2" stroke="#e2e2e2" stroke-width="0.7"/><path d="M549.6,304.5 q1.1,-1.9 3.9,1 t2.6,-1 t3.3,0.6" stroke="#808080" stroke-width="0.7"/><path d="M553.1,311.5 q1.5,2.1 2.3,0.5 t3.1,0.5 t3.3,-0.3" stroke="#e2e2e2" stroke-width="0.7"/><path d="M552.1,296.4 q-1.2,0.9 3.1,-0.8 t2,0.3 t2.1,-0.5" stroke="#808080" stroke-width="0.7"/><path d="M550,295.3 q0.2,1.1 2.3,-0.5 t3.2,-0 t2.8,0" stroke="#e2e2e2" stroke-width="0.7"/><path d="M554.9,301.4 q-1.6,-2.2 3.5,0.6 t2.7,-0.1 t3.8,0.5" stroke="#808080" stroke-width="0.7"/><path d="M544.3,291.8 q1.2,1.8 3,-0.3 t4,0.6 t2.5,-0.8" stroke="#e2e2e2" stroke-width="0.7"/><path d="M562.9,299 q-1,2.1 2.7,0.1 t3.9,0.1 t2.6,0.9" stroke="#808080" stroke-width="0.7"/><path d="M555.9,294.4 q1.9,1.5 2.5,-0.8 t3.8,-1 t3.6,0.9" stroke="#e2e2e2" stroke-width="0.7"/><path d="M543.2,293.5 q-1.5,-0.1 2.9,-0.1 t2.2,-0.8 t2.9,-0.2" stroke="#808080" stroke-width="0.7"/><path d="M543.8,297.1 q-0.9,0.6 3.8,0.6 t3.3,0.4 t2.5,-0.7" stroke="#e2e2e2" stroke-width="0.7"/><path d="M553.6,302.7 q-0.3,2.4 4,-0.2 t2.2,0.9 t3.7,0.8" stroke="#808080" stroke-width="0.7"/><path d="M557,296.9 q1.1,1.7 2.7,0.8 t3,0.2 t3,0.7" stroke="#e2e2e2" stroke-width="0.7"/><path d="M538.3,319.3 q0.6,1.8 2.8,0.8 t3.5,0.2 t3.8,0.9" stroke="#808080" stroke-width="0.7"/><path d="M561.2,312.4 q1.8,-1.2 2,-0.9 t2.7,-0.1 t3.1,0.3" stroke="#e2e2e2" stroke-width="0.7"/><path d="M535.4,305.3 q-0.7,1.4 3.5,0.2 t3.9,-0.2 t3.3,-0.9" stroke="#808080" stroke-width="0.7"/><path d="M537.6,310.1 q1.8,-2 2.8,-1 t2.9,-0.1 t3.8,-0.7" stroke="#e2e2e2" stroke-width="0.7"/><path d="M536.5,292.2 q1.1,-1.5 3.1,0.3 t3.4,-0.4 t2.1,-0.6" stroke="#808080" stroke-width="0.7"/><path d="M542,290.9 q-0.8,1.1 3.7,0.6 t3.2,-1 t3.9,-0.9" stroke="#e2e2e2" stroke-width="0.7"/><path d="M558.6,305.8 q0.6,-2.4 3.1,0.3 t3.1,-0.6 t3.1,-0.5" stroke="#808080" stroke-width="0.7"/><path d="M535.5,296.6 q-0.5,2.1 3,-0.7 t2.1,-0.9 t3.8,-0.5" stroke="#e2e2e2" stroke-width="0.7"/><path d="M540.5,298.2 q-0.2,0 3.6,0.4 t3.7,0.4 t2.7,0.5" stroke="#808080" stroke-width="0.7"/><path d="M532.7,288.4 q1.3,1.3 2.9,0.5 t2.4,-0.7 t2.7,0.7" stroke="#e2e2e2" stroke-width="0.7"/><path d="M555.7,314.9 q-1,1.6 3.3,0.8 t3.8,0.6 t2.2,-0.2" stroke="#808080" stroke-width="0.7"/><path d="M545.4,288.1 q1.8,1.9 3,-1 t3.9,0.6 t2.2,-0.5" stroke="#e2e2e2" stroke-width="0.7"/><path d="M540.2,317.9 q-0.7,-2.1 2.5,0.6 t2.4,-0.4 t2.6,-1" stroke="#808080" stroke-width="0.7"/><path d="M553,303.5 q0.3,1.6 3.6,0.4 t3.2,0.9 t3.8,-1" stroke="#e2e2e2" stroke-width="0.7"/><path d="M537.1,298.6 q-1.2,-0.5 2.2,0.7 t2.4,-0.1 t2.6,0.7" stroke="#808080" stroke-width="0.7"/><path d="M537.5,317.5 q-2,2.3 2.6,0.3 t2.6,0.2 t2.9,-0.1" stroke="#e2e2e2" stroke-width="0.7"/><path d="M547.5,313.5 q-1.9,1.4 2.8,-1 t2.1,-0.3 t3.5,0.8" stroke="#808080" stroke-width="0.7"/><path d="M541.1,312.5 q1.7,-0.3 3.5,0.2 t2.9,-0.8 t3.3,0" stroke="#e2e2e2" stroke-width="0.7"/><path d="M540.4,318.2 q-1.8,-1.8 3.5,0.9 t2.6,0.6 t2.7,0.6" stroke="#808080" stroke-width="0.7"/><path d="M553.8,291.6 q1.2,1.7 3.8,-0.9 t3.4,-0.8 t2.5,-0.1" stroke="#e2e2e2" stroke-width="0.7"/><path d="M543.8,297.9 q1.8,-2 3.5,-0.7 t2.9,-0.6 t2.4,-0.2" stroke="#808080" stroke-width="0.7"/><path d="M553.6,301.6 q-0.8,-1.3 2.5,0.3 t2.9,0.7 t2.2,-0.7" stroke="#e2e2e2" stroke-width="0.7"/><path d="M538.8,317.9 q-0.9,1.3 2.6,-0 t2.9,-0.5 t3.8,0.2" stroke="#808080" stroke-width="0.7"/><path d="M550,316.6 q-0.1,-1.5 2.2,0.3 t3.4,0.7 t3.7,-0.1" stroke="#e2e2e2" stroke-width="0.7"/><path d="M543.7,292.2 q1.6,1.2 2.7,0.2 t3,-0.4 t3.3,0.9" stroke="#808080" stroke-width="0.7"/><path d="M540.3,299.8 q-0.2,-1 3,-0.7 t3.4,-0.4 t3.1,-0.9" stroke="#e2e2e2" stroke-width="0.7"/></g><path d="M564.7,304 C565.3,304.6 564.7,305.4 564.6,306.1 C564.5,306.8 564.9,307.7 564.1,308.2 C563.4,308.7 561.1,308.5 560.3,308.9 C559.6,309.3 559.9,309.9 559.6,310.4 C559.3,310.9 558.6,310.9 558.7,311.8 C558.7,312.6 560,314.6 560,315.5 C559.9,316.3 558.9,316.4 558.4,316.9 C557.8,317.3 557.4,318.2 556.6,318 C555.8,317.9 554.2,316.1 553.4,315.8 C552.6,315.5 552.4,316.2 551.8,316.4 C551.3,316.5 550.7,316.1 550.2,316.7 C549.6,317.3 549.1,319.6 548.5,320.2 C547.9,320.8 547.1,320.2 546.4,320.1 C545.7,320 544.8,320.4 544.3,319.6 C543.8,318.9 544,316.6 543.6,315.8 C543.2,315.1 542.6,315.4 542.1,315.1 C541.6,314.8 541.6,314.1 540.7,314.2 C539.9,314.2 537.9,315.5 537,315.5 C536.2,315.4 536.1,314.4 535.6,313.9 C535.2,313.3 534.3,312.9 534.5,312.1 C534.6,311.3 536.4,309.7 536.7,308.9 C537,308.1 536.3,307.9 536.1,307.3 C536,306.8 536.4,306.2 535.8,305.7 C535.2,305.1 532.9,304.6 532.3,304 C531.7,303.4 532.3,302.6 532.4,301.9 C532.5,301.2 532.1,300.3 532.9,299.8 C533.6,299.3 535.9,299.5 536.7,299.1 C537.4,298.7 537.1,298.1 537.4,297.6 C537.7,297.1 538.4,297.1 538.3,296.2 C538.3,295.4 537,293.4 537,292.5 C537.1,291.7 538.1,291.6 538.6,291.1 C539.2,290.7 539.6,289.8 540.4,290 C541.2,290.1 542.8,291.9 543.6,292.2 C544.4,292.5 544.6,291.8 545.2,291.6 C545.7,291.5 546.3,291.9 546.8,291.3 C547.4,290.7 547.9,288.4 548.5,287.8 C549.1,287.2 549.9,287.8 550.6,287.9 C551.3,288 552.2,287.6 552.7,288.4 C553.2,289.1 553,291.4 553.4,292.2 C553.8,292.9 554.4,292.6 554.9,292.9 C555.4,293.2 555.4,293.9 556.3,293.8 C557.1,293.8 559.1,292.5 560,292.5 C560.8,292.6 560.9,293.6 561.4,294.1 C561.8,294.7 562.7,295.1 562.5,295.9 C562.4,296.7 560.6,298.3 560.3,299.1 C560,299.9 560.7,300.1 560.9,300.7 C561,301.2 560.6,301.8 561.2,302.3 C561.8,302.9 564.1,303.4 564.7,304Z" fill="none" stroke="#6a6a6a" stroke-width="0.95"/><circle cx="549" cy="303.5" r="1.9" fill="#f6f6f6" stroke="#777" stroke-width="0.6"/><circle cx="549" cy="303.5" r="3.3" fill="#f6f6f6" stroke="#666" stroke-width="0.7"/><clipPath id="pc9"><path d="M604,296 C606,292 610,293 612,296 C614,293 618,292 622,294 C626,296 625,302 621,304 C619,310 618,318 617,326 C616,331 616,335 613,336 C610,336 610,331 611,325 C610,322 609,322 608,326 C607,331 606,336 603,336 C600,336 601,330 603,324 C605,316 607,309 606,304 C602,302 602,299 604,296 Z"/></clipPath><path d="M604,296 C606,292 610,293 612,296 C614,293 618,292 622,294 C626,296 625,302 621,304 C619,310 618,318 617,326 C616,331 616,335 613,336 C610,336 610,331 611,325 C610,322 609,322 608,326 C607,331 606,336 603,336 C600,336 601,330 603,324 C605,316 607,309 606,304 C602,302 602,299 604,296 Z" fill="url(#prot)" stroke="none"/><g clip-path="url(#pc9)" fill="none"><path d="M624.1,300.1 q1.1,0.2 4,0.1 t2.9,-0.8 t2.9,0.9" stroke="#808080" stroke-width="0.7"/><path d="M625.8,303.4 q1.2,-1.4 3.2,-0.2 t2.5,-0.1 t3.5,0.4" stroke="#e2e2e2" stroke-width="0.7"/><path d="M608.8,297.9 q-1.9,2.1 3,-0 t2.8,-0.8 t2.5,0.9" stroke="#808080" stroke-width="0.7"/><path d="M609.9,316.1 q1.8,0.5 2.4,-0.9 t2.3,-0.8 t2.4,-0.7" stroke="#e2e2e2" stroke-width="0.7"/><path d="M608.5,313.1 q-0.5,-0.7 3,-0.5 t3.9,-0.5 t3.3,-0.2" stroke="#808080" stroke-width="0.7"/><path d="M614,292.2 q2,1.9 2.1,-0.5 t3.8,0.5 t3.1,0.6" stroke="#e2e2e2" stroke-width="0.7"/><path d="M603,325.4 q-1.3,-1.1 3.9,-0.3 t3.1,0.3 t2.9,0.6" stroke="#808080" stroke-width="0.7"/><path d="M624.8,317.8 q-0.6,1.6 2.5,-0.9 t3.8,-0.5 t2.1,0.4" stroke="#e2e2e2" stroke-width="0.7"/><path d="M600.7,324 q1.3,-1.4 3.6,0.2 t2.4,-0.7 t2.2,-0" stroke="#808080" stroke-width="0.7"/><path d="M623.6,312.5 q-0.2,-0.8 3.2,0.2 t2.5,-0.6 t2.1,0.4" stroke="#e2e2e2" stroke-width="0.7"/><path d="M615.2,296.5 q1.5,1 2,0.3 t2.1,-0.1 t3.8,0.3" stroke="#808080" stroke-width="0.7"/><path d="M604.1,297 q1.8,-2.5 2.5,-0.7 t2.6,-0.3 t3.6,-0.2" stroke="#e2e2e2" stroke-width="0.7"/><path d="M612.5,327.8 q-0.1,-1.8 3.7,0.4 t2.2,0.1 t3.9,-0.8" stroke="#808080" stroke-width="0.7"/><path d="M620.8,331.3 q-0.2,1.8 3.7,0.1 t3.8,-0.3 t3,-1" stroke="#e2e2e2" stroke-width="0.7"/><path d="M615.8,310.4 q-1.3,0.2 2.5,-0.1 t2.1,-0.2 t2.1,-0.1" stroke="#808080" stroke-width="0.7"/><path d="M614.4,312.3 q0.3,1.9 2.7,0.7 t3.8,-0.3 t2.3,0.6" stroke="#e2e2e2" stroke-width="0.7"/><path d="M625.2,323.1 q-1.5,0.7 3,-0.2 t2.8,-0.1 t3.4,0.6" stroke="#808080" stroke-width="0.7"/><path d="M602,311.4 q0.4,1.2 3.8,0 t3.5,-1 t3.9,0.8" stroke="#e2e2e2" stroke-width="0.7"/><path d="M611.8,324.7 q-1.2,-0.7 3.1,0.6 t3.8,0.3 t3,0.6" stroke="#808080" stroke-width="0.7"/><path d="M624.3,328.2 q-0.9,2.2 3.8,-0.4 t3.9,-0.8 t3.9,-0.9" stroke="#e2e2e2" stroke-width="0.7"/><path d="M608.4,326.6 q-1.2,-2.4 2.2,0.9 t2.3,0.8 t3,0.4" stroke="#808080" stroke-width="0.7"/><path d="M612.8,302.9 q-0.9,-1.9 2.8,0.9 t3.2,-0.5 t2.6,-0.3" stroke="#e2e2e2" stroke-width="0.7"/><path d="M618.6,330.9 q2,-2 2.3,-0.2 t2.9,-0.5 t3.6,-0.4" stroke="#808080" stroke-width="0.7"/><path d="M621.3,311.1 q-1.2,-2.5 2.8,-0.4 t3.5,0.4 t3,0.1" stroke="#e2e2e2" stroke-width="0.7"/><path d="M624.7,294.6 q-1.9,1.4 2.5,0.3 t3.6,-0.9 t3.8,0.6" stroke="#808080" stroke-width="0.7"/><path d="M616.8,334.9 q-1.1,-0.9 3.2,0.8 t3.3,0.6 t3.7,0.3" stroke="#e2e2e2" stroke-width="0.7"/><path d="M613.1,312.2 q-1.3,2.2 2.6,0.1 t2.8,1 t2.6,0.7" stroke="#808080" stroke-width="0.7"/><path d="M603.6,316.5 q-1.2,2.3 2.9,-0.4 t2.7,-0.4 t2.3,0.8" stroke="#e2e2e2" stroke-width="0.7"/><path d="M614.4,331.9 q-0.3,0.8 2.1,-0.2 t3.7,-0.3 t2.5,-0.2" stroke="#808080" stroke-width="0.7"/><path d="M604.5,310.1 q0.3,-0.1 2.4,-0.3 t4,-0.7 t4,0.1" stroke="#e2e2e2" stroke-width="0.7"/><path d="M616.4,297.3 q1.9,-0.5 2.1,0.5 t2.1,-1 t3.3,0.6" stroke="#808080" stroke-width="0.7"/><path d="M610.2,293.5 q-1.5,-2.2 3.2,-0.5 t3.7,0.6 t2.9,0.8" stroke="#e2e2e2" stroke-width="0.7"/><path d="M610.9,315.4 q-1.8,2.3 3.6,0.8 t3.5,0.6 t3.1,-0.8" stroke="#808080" stroke-width="0.7"/><path d="M603.8,321.7 q0.9,1.8 3.5,-0.1 t2.1,0.2 t2.2,-0.2" stroke="#e2e2e2" stroke-width="0.7"/><path d="M619.9,313.5 q1.2,0.5 3.3,-0.4 t3.7,0.4 t2.5,-0.6" stroke="#808080" stroke-width="0.7"/><path d="M615.7,295.6 q0.9,1.6 3.4,-0.1 t3.5,-0.8 t2.5,-1" stroke="#e2e2e2" stroke-width="0.7"/><path d="M614.8,293.2 q-0.8,0.7 2.6,-0.1 t2.2,-0.3 t3,0.2" stroke="#808080" stroke-width="0.7"/><path d="M606.7,327.5 q1.9,0.1 3.4,0.6 t2.2,0.7 t2.2,-0.4" stroke="#e2e2e2" stroke-width="0.7"/><path d="M617.3,313.7 q0.2,-0.2 2.1,0.5 t3,0.6 t3,0.8" stroke="#808080" stroke-width="0.7"/><path d="M612.3,300.5 q-1,2.2 3.4,0.4 t2.1,-0.3 t3.4,0.4" stroke="#e2e2e2" stroke-width="0.7"/><path d="M619.8,292.9 q-1.5,0.5 2.5,0.1 t3.6,-1 t2.2,-0.3" stroke="#808080" stroke-width="0.7"/><path d="M604.6,327.6 q-1.9,-1.6 3.6,-1 t2.4,-0.2 t2.6,0.3" stroke="#e2e2e2" stroke-width="0.7"/><path d="M615.9,304.5 q0.6,-0 2.1,0.6 t2.2,0.1 t2.6,-0.1" stroke="#808080" stroke-width="0.7"/><path d="M603.6,331.1 q-1.1,0.6 3.6,0.6 t3.6,0.4 t3.7,0.4" stroke="#e2e2e2" stroke-width="0.7"/><path d="M607.7,306.6 q0.8,0.4 2.7,0.9 t2.6,-0.7 t2.4,-0.1" stroke="#808080" stroke-width="0.7"/><path d="M615.9,297.9 q0.1,2.1 3.6,-0.9 t3.8,-0.7 t2,0.4" stroke="#e2e2e2" stroke-width="0.7"/><path d="M610.4,335.6 q0.1,0.6 3.6,-0.9 t3.3,0.2 t3.9,-0" stroke="#808080" stroke-width="0.7"/><path d="M617.7,324.9 q-0.9,1.3 3,0.4 t2.7,0.7 t3.9,0.4" stroke="#e2e2e2" stroke-width="0.7"/><path d="M612.7,314.8 q-0.9,-2.1 2.6,-0.2 t3.4,-0.1 t2.5,-0.2" stroke="#808080" stroke-width="0.7"/><path d="M616.8,318.2 q-1.2,-1.7 2.3,-0.2 t2.8,-0.5 t2.9,0.8" stroke="#e2e2e2" stroke-width="0.7"/><path d="M624.9,292 q-1.3,1.4 3.1,-0.4 t2.6,-0.1 t2.5,0.3" stroke="#808080" stroke-width="0.7"/><path d="M622.9,333.6 q1.2,0.8 3.1,-0.8 t2.1,0.1 t3.5,0.6" stroke="#e2e2e2" stroke-width="0.7"/><path d="M618.1,296.9 q-0.5,0.5 2.2,-0.2 t3.9,-0.5 t2.7,-0.3" stroke="#808080" stroke-width="0.7"/><path d="M613.4,315.6 q1.6,0.1 3.3,-0.7 t2.6,0.7 t3.3,-0.2" stroke="#e2e2e2" stroke-width="0.7"/><path d="M620.7,293.1 q-1.4,0.2 2.4,0.8 t3,0.8 t3.8,0.6" stroke="#808080" stroke-width="0.7"/><path d="M623.9,331.2 q-0.4,-1.1 4,-0 t3.8,-0.1 t2.3,0.6" stroke="#e2e2e2" stroke-width="0.7"/><path d="M618.9,323.2 q-0.3,1.8 3.1,0.4 t2.2,0.4 t3.5,-0.6" stroke="#808080" stroke-width="0.7"/><path d="M610.1,319.9 q-0.6,-0.7 2.9,0.6 t2.3,0.2 t2.2,-0.8" stroke="#e2e2e2" stroke-width="0.7"/></g><path d="M604,296 C606,292 610,293 612,296 C614,293 618,292 622,294 C626,296 625,302 621,304 C619,310 618,318 617,326 C616,331 616,335 613,336 C610,336 610,331 611,325 C610,322 609,322 608,326 C607,331 606,336 603,336 C600,336 601,330 603,324 C605,316 607,309 606,304 C602,302 602,299 604,296 Z" fill="none" stroke="#6a6a6a" stroke-width="0.95"/><path d="M147.5,250 L378.3,250 Q383.1,250 383.1,254.8 L383.1,348.6 L378.9,352.6 L147.5,352.6 Q143,352.6 143,348.2 L143,254.5 Z" fill="#fff" stroke="#8a8a8a" stroke-width="1.15"/><rect x="178.2" y="277.8" width="198.1" height="7.4" fill="#e5e5e5"/><line x1="272.7" y1="250" x2="272.7" y2="352.6" stroke="#8e8e8e" stroke-width="1"/><line x1="326.6" y1="250" x2="326.6" y2="352.6" stroke="#8e8e8e" stroke-width="1"/><text x="156.3" y="260.2" class="tb" text-anchor="start" textLength="16" lengthAdjust="spacingAndGlyphs">Tabelle</text><text x="157.3" y="268.2" class="tb" text-anchor="middle">1</text><text x="157.3" y="275.6" class="tb" text-anchor="middle">2</text><text x="188.6" y="260.2" class="tb" text-anchor="middle">0</text><text x="193.9" y="260.2" class="tb" text-anchor="middle">1</text><text x="199.2" y="260.2" class="tb" text-anchor="middle">2</text><text x="204.5" y="260.2" class="tb" text-anchor="middle">3</text><text x="209.8" y="260.2" class="tb" text-anchor="middle">4</text><text x="215.1" y="260.2" class="tb" text-anchor="middle">5</text><text x="220.4" y="260.2" class="tb" text-anchor="middle">6</text><text x="225.7" y="260.2" class="tb" text-anchor="middle">7</text><text x="231" y="260.2" class="tb" text-anchor="middle">8</text><text x="236.3" y="260.2" class="tb" text-anchor="middle">9</text><text x="241" y="260.2" class="tb" text-anchor="start" textLength="29.5" lengthAdjust="spacingAndGlyphs">Leerzeichen</text><text x="276.3" y="260.2" class="tb" text-anchor="start" textLength="7.5" lengthAdjust="spacingAndGlyphs">links</text><text x="291.7" y="260.2" class="tb" text-anchor="start" textLength="15" lengthAdjust="spacingAndGlyphs">rechts</text><text x="310.6" y="260.2" class="tb" text-anchor="start" textLength="14" lengthAdjust="spacingAndGlyphs">stopp</text><text x="329.4" y="260.2" class="tb" text-anchor="start" textLength="21.2" lengthAdjust="spacingAndGlyphs">Tabelle 1</text><text x="354" y="260.2" class="tb" text-anchor="start" textLength="21.3" lengthAdjust="spacingAndGlyphs">Tabelle 2</text><text x="183.8" y="268.6" class="tb" text-anchor="middle">0</text><text x="183.8" y="276.3" class="tb" text-anchor="middle">1</text><text x="183.8" y="284.1" class="tb" text-anchor="middle">2</text><text x="183.8" y="291.8" class="tb" text-anchor="middle">3</text><text x="183.8" y="299.6" class="tb" text-anchor="middle">4</text><text x="183.8" y="307.3" class="tb" text-anchor="middle">5</text><text x="183.8" y="315.1" class="tb" text-anchor="middle">6</text><text x="183.8" y="322.8" class="tb" text-anchor="middle">7</text><text x="183.8" y="330.6" class="tb" text-anchor="middle">8</text><text x="183.8" y="338.3" class="tb" text-anchor="middle">9</text><text x="153" y="349" class="tb" text-anchor="start" textLength="29" lengthAdjust="spacingAndGlyphs">Leerzeichen</text><rect x="160.2" y="262.7" width="3.5" height="6.6" rx="0.6" fill="none" stroke="#5a5a5a" stroke-width="0.75"/><rect x="197.4" y="263.1" width="3.5" height="6.6" rx="0.6" fill="none" stroke="#5a5a5a" stroke-width="0.75"/><rect x="202.8" y="270.8" width="3.5" height="6.6" rx="0.6" fill="none" stroke="#5a5a5a" stroke-width="0.75"/><rect x="208" y="278.6" width="3.5" height="6.6" rx="0.6" fill="none" stroke="#5a5a5a" stroke-width="0.75"/><rect x="213.3" y="286.3" width="3.5" height="6.6" rx="0.6" fill="none" stroke="#5a5a5a" stroke-width="0.75"/><rect x="218.6" y="294.1" width="3.5" height="6.6" rx="0.6" fill="none" stroke="#5a5a5a" stroke-width="0.75"/><rect x="223.9" y="301.8" width="3.5" height="6.6" rx="0.6" fill="none" stroke="#5a5a5a" stroke-width="0.75"/><rect x="229.2" y="309.6" width="3.5" height="6.6" rx="0.6" fill="none" stroke="#5a5a5a" stroke-width="0.75"/><rect x="234.5" y="317.3" width="3.5" height="6.6" rx="0.6" fill="none" stroke="#5a5a5a" stroke-width="0.75"/><rect x="186.8" y="325.1" width="3.5" height="6.6" rx="0.6" fill="none" stroke="#5a5a5a" stroke-width="0.75"/><rect x="192.2" y="332.8" width="3.5" height="6.6" rx="0.6" fill="none" stroke="#5a5a5a" stroke-width="0.75"/><rect x="197.4" y="343.3" width="3.5" height="6.6" rx="0.6" fill="none" stroke="#5a5a5a" stroke-width="0.75"/><rect x="315.7" y="262.7" width="4.2" height="7.4" rx="1.3" fill="none" stroke="#6a6a6a" stroke-width="0.8"/><rect x="315.7" y="270.4" width="4.2" height="7.4" rx="1.3" fill="none" stroke="#6a6a6a" stroke-width="0.8"/><rect x="315.7" y="278.2" width="4.2" height="7.4" rx="1.3" fill="none" stroke="#6a6a6a" stroke-width="0.8"/><rect x="315.7" y="285.9" width="4.2" height="7.4" rx="1.3" fill="none" stroke="#6a6a6a" stroke-width="0.8"/><rect x="315.7" y="293.7" width="4.2" height="7.4" rx="1.3" fill="none" stroke="#6a6a6a" stroke-width="0.8"/><rect x="315.7" y="301.4" width="4.2" height="7.4" rx="1.3" fill="none" stroke="#6a6a6a" stroke-width="0.8"/><rect x="315.7" y="309.2" width="4.2" height="7.4" rx="1.3" fill="none" stroke="#6a6a6a" stroke-width="0.8"/><rect x="315.7" y="316.9" width="4.2" height="7.4" rx="1.3" fill="none" stroke="#6a6a6a" stroke-width="0.8"/><rect x="315.7" y="342.8" width="4.2" height="7.4" rx="1.3" fill="none" stroke="#6a6a6a" stroke-width="0.8"/><rect x="296.5" y="324.7" width="4.2" height="7.4" rx="1.3" fill="none" stroke="#6a6a6a" stroke-width="0.8"/><rect x="296.5" y="332.4" width="4.2" height="7.4" rx="1.3" fill="none" stroke="#6a6a6a" stroke-width="0.8"/><rect x="362.6" y="262.7" width="4.2" height="7.4" rx="1.3" fill="none" stroke="#6a6a6a" stroke-width="0.8"/><rect x="362.6" y="270.4" width="4.2" height="7.4" rx="1.3" fill="none" stroke="#6a6a6a" stroke-width="0.8"/><rect x="362.6" y="278.2" width="4.2" height="7.4" rx="1.3" fill="none" stroke="#6a6a6a" stroke-width="0.8"/><rect x="362.6" y="285.9" width="4.2" height="7.4" rx="1.3" fill="none" stroke="#6a6a6a" stroke-width="0.8"/><rect x="362.6" y="293.7" width="4.2" height="7.4" rx="1.3" fill="none" stroke="#6a6a6a" stroke-width="0.8"/><rect x="362.6" y="301.4" width="4.2" height="7.4" rx="1.3" fill="none" stroke="#6a6a6a" stroke-width="0.8"/><rect x="362.6" y="309.2" width="4.2" height="7.4" rx="1.3" fill="none" stroke="#6a6a6a" stroke-width="0.8"/><rect x="362.6" y="316.9" width="4.2" height="7.4" rx="1.3" fill="none" stroke="#6a6a6a" stroke-width="0.8"/><rect x="362.6" y="324.7" width="4.2" height="7.4" rx="1.3" fill="none" stroke="#6a6a6a" stroke-width="0.8"/><rect x="362.6" y="332.4" width="4.2" height="7.4" rx="1.3" fill="none" stroke="#6a6a6a" stroke-width="0.8"/><rect x="362.6" y="342.8" width="4.2" height="7.4" rx="1.3" fill="none" stroke="#6a6a6a" stroke-width="0.8"/><path d="M320,127.6 Q365,113.3 410.5,125.5" fill="none" stroke="#1a1a1a" stroke-width="1.5" marker-end="url(#ah)" marker-start="url(#ah)"/><path d="M263.3,208.8 C268.8,206.8 284.9,199.1 296.3,196.5 C307.8,193.9 318.2,192.7 332,193.2 C345.8,193.7 364.1,197.8 378.8,199.3 C393.5,200.8 408.6,202.6 420,202.2 C431.4,201.8 440.4,199.1 447.5,197 C454.6,194.9 460.1,190.8 462.6,189.6" fill="none" stroke="#1a1a1a" stroke-width="1.5" marker-end="url(#ah)" marker-start="url(#ah)"/><path d="M367.8,219.3 C376.5,219.4 402.1,220 420,219.9 C437.9,219.8 461.7,219.8 475,218.6 C488.3,217.4 493.3,216.1 500,213 C506.7,209.9 510.9,204.8 515,200 C519.1,195.2 523.2,187 524.8,184.4" fill="none" stroke="#1a1a1a" stroke-width="1.5" marker-end="url(#ah)" marker-start="url(#ah)"/><path d="M380.2,279.2 C386.8,279.3 406.7,280.2 420,280 C433.3,279.8 447.5,279.2 460,278 C472.5,276.8 483.8,275 495,272.5 C506.2,270 522,264.8 527.4,263.2" fill="none" stroke="#1a1a1a" stroke-width="1.5" marker-end="url(#ah)" marker-start="url(#ah)"/><text x="326.5" y="112.3" class="lb" font-size="11" textLength="77.7" lengthAdjust="spacingAndGlyphs">Datenspeicher</text><text x="308.9" y="189.8" class="lb" font-size="11" textLength="49.6" lengthAdjust="spacingAndGlyphs">Lesekopf</text><text x="348.2" y="235" class="lb" font-size="11" textLength="99.8" lengthAdjust="spacingAndGlyphs">Programmspeicher</text><text x="394.5" y="292.5" class="lb" font-size="11" textLength="103.2" lengthAdjust="spacingAndGlyphs">Rechenoperationen</text>
</svg>
</body></html>
